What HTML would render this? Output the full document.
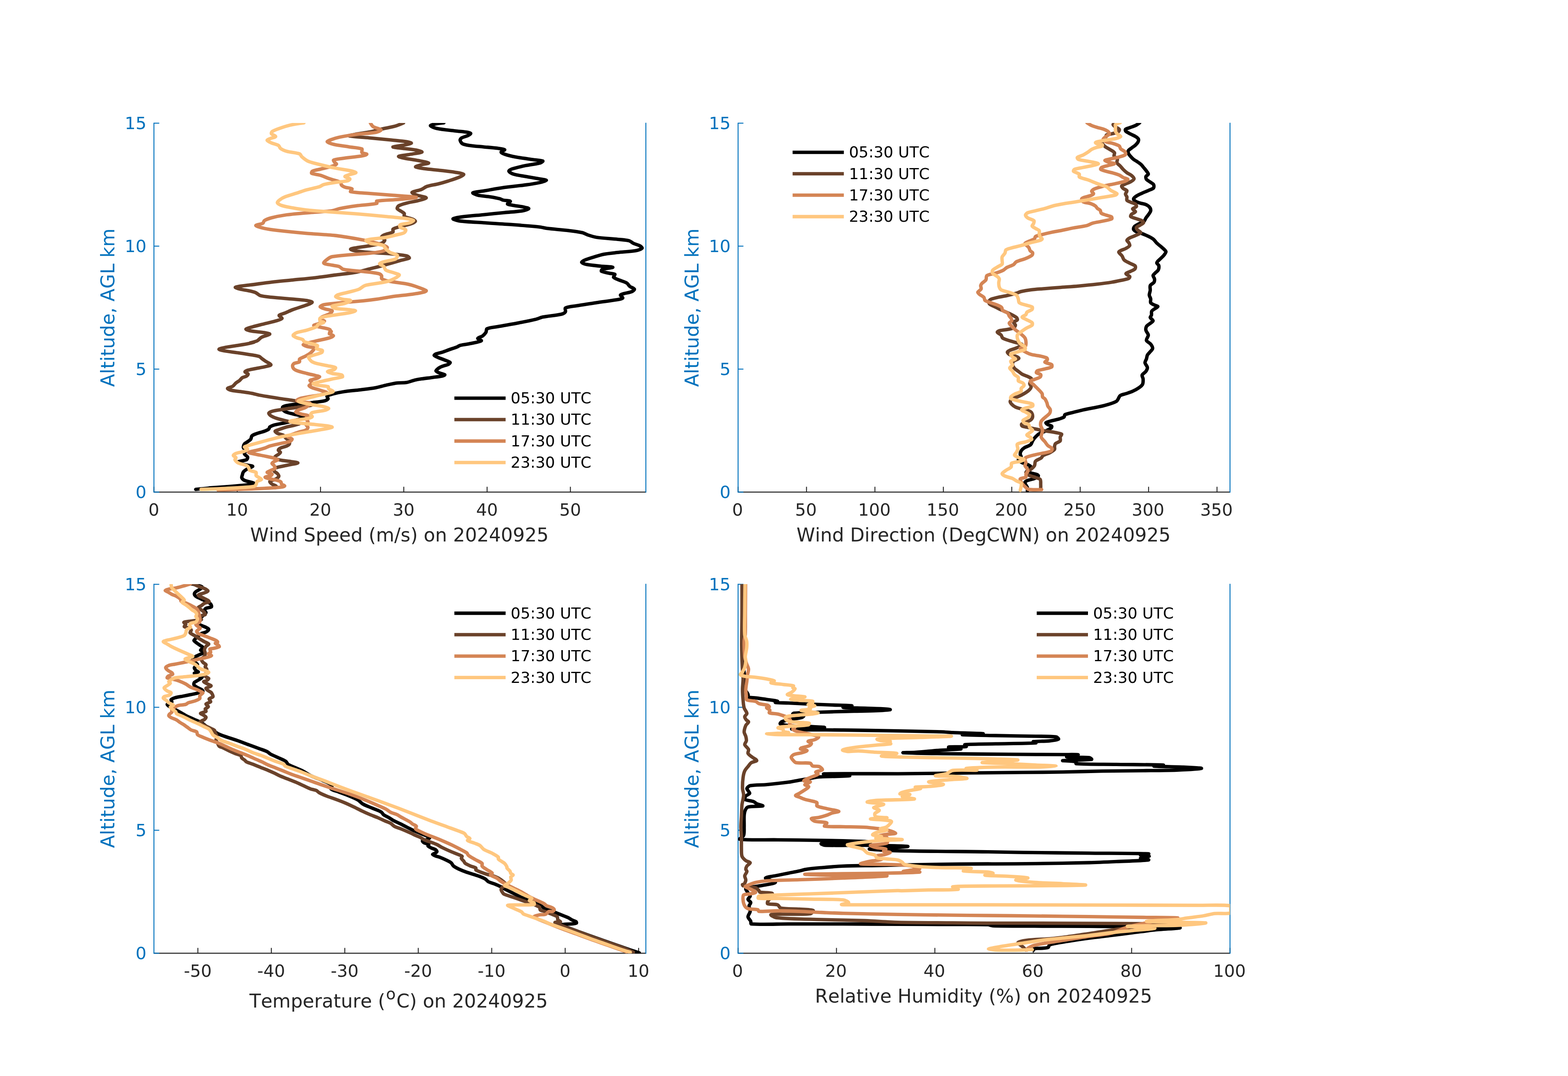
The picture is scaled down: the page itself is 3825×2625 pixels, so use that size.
<!DOCTYPE html>
<html lang="en">
<head>
<meta charset="utf-8">
<title>Sounding profiles 20240925</title>
<style>
html,body{margin:0;padding:0;background:#fff;}
svg{display:block;}
text{font-family:"DejaVu Sans", "Liberation Sans", sans-serif;font-kerning:none;font-variant-ligatures:none;}
.tk{font-size:41.67px;}
.lb{font-size:45.83px;}
.lg{font-size:37.55px;fill:#000;}
.c{fill:none;stroke-width:8.33;stroke-linejoin:round;stroke-linecap:round;}
</style>
</head>
<body>
<svg width="3825" height="2625" viewBox="0 0 3825 2625">
<rect x="0" y="0" width="3825" height="2625" fill="#ffffff"/>
<g id="panel-ws">
<clipPath id="clip0"><rect x="375.5" y="300" width="1200" height="901"/></clipPath>
<g stroke="#262626" stroke-width="2.3" fill="none">
<line x1="375.5" y1="1200.5" x2="1575.5" y2="1200.5"/>
<line x1="375.5" y1="1200.5" x2="375.5" y2="1187.5"/>
<line x1="578.7" y1="1200.5" x2="578.7" y2="1187.5"/>
<line x1="781.9" y1="1200.5" x2="781.9" y2="1187.5"/>
<line x1="985" y1="1200.5" x2="985" y2="1187.5"/>
<line x1="1188.2" y1="1200.5" x2="1188.2" y2="1187.5"/>
<line x1="1391.4" y1="1200.5" x2="1391.4" y2="1187.5"/>
</g>
<g stroke="#0072BD" stroke-width="2.3" fill="none">
<line x1="375.5" y1="299.4" x2="375.5" y2="1201.7"/>
<line x1="1575.5" y1="299.4" x2="1575.5" y2="1201.7"/>
<line x1="375.5" y1="1200.5" x2="388.5" y2="1200.5"/>
<line x1="375.5" y1="900.5" x2="388.5" y2="900.5"/>
<line x1="375.5" y1="600.5" x2="388.5" y2="600.5"/>
<line x1="375.5" y1="300.5" x2="388.5" y2="300.5"/>
</g>
<g clip-path="url(#clip0)">
<path class="c" stroke="#000000" d="M1082.8,299.7C1082.8,299.7 1068.2,301.1 1062.1,302.4C1058.4,303.2 1049.6,305.2 1050,306.6C1050.6,308.5 1060.6,312.4 1065.5,313.4C1078.7,316.2 1096.8,317.6 1110.3,319.3C1119.6,320.5 1132.2,321.3 1141.4,322.8C1143.6,323.2 1148.3,324.4 1148.3,325.5C1148.3,326.8 1143.7,329.6 1141.4,330.7C1137,332.9 1130.1,334.2 1125.9,336.6C1124.4,337.5 1122.2,340.1 1122.4,341.7C1122.7,344.2 1125.2,348.9 1127.6,350.3C1131.9,352.8 1139.5,354 1144.8,354.8C1155.1,356.4 1168.9,357.3 1179.3,358.3C1189.6,359.3 1203.5,360.3 1213.8,361.7C1219,362.4 1229.4,363.4 1231,365.2C1232,366.2 1222.4,369.3 1222.4,371C1222.4,372.6 1228.2,375.3 1231,376.2C1239,378.9 1250.2,381.5 1258.6,383.1C1270.9,385.4 1287.6,387.5 1300,389.3C1307.2,390.4 1320.3,390.9 1324.1,392.8C1325.4,393.4 1319.6,397 1317.2,397.6C1307.2,400.3 1293,401.6 1282.8,403.8C1272.4,406 1258.3,409.1 1248.3,412.4C1245.9,413.2 1241,416.1 1241.4,417.6C1242,419.7 1248.2,423.4 1251.7,424.5C1260.6,427.3 1273.4,429 1282.8,430.7C1293.1,432.6 1306.9,434.7 1317.2,436.6C1321.9,437.5 1332.8,438.7 1332.8,440C1332.8,441.3 1322,444.1 1317.2,445.2C1307,447.4 1293.2,449.6 1282.8,451C1267.3,453.2 1246.5,455 1231,457.2C1215.4,459.4 1194.8,463.3 1179.3,465.9C1171.5,467.2 1156.1,468.3 1153.4,470.3C1152,471.3 1161.6,475.3 1165.5,476.2C1174.6,478.3 1187.3,478.8 1196.6,480.3C1203.4,481.4 1212.4,483.1 1219,484.8C1221.7,485.5 1224.9,487.7 1227.6,488.3C1232.6,489.5 1242.8,489.2 1244.8,491C1245.9,492 1237.4,496.3 1237.9,497.6C1238.5,499.1 1245.1,499.7 1248.3,500.3C1257.6,502.1 1270.1,503.6 1279.3,505.5C1282.5,506.2 1290.1,507.9 1289.7,509C1289.1,510.5 1280.2,513.4 1275.9,514.1C1262.6,516.3 1244.5,517.2 1231,518.6C1215.5,520.2 1194.8,522.2 1179.3,523.8C1163.8,525.4 1143,526.9 1127.6,529C1120.8,529.9 1106.4,532 1105.2,533.8C1104.3,535 1115.9,538.4 1120.7,539C1138.1,541.3 1161.7,542.2 1179.3,543.4C1200,544.8 1227.6,546.3 1248.3,547.9C1269,549.5 1296.6,551.6 1317.2,553.8C1322.5,554.4 1329.3,556.5 1334.5,557.2C1350,559.1 1370.7,560.5 1386.2,562.4C1396.6,563.7 1410.6,565.3 1420.7,567.6C1425.1,568.6 1430.2,572 1434.5,573.4C1440.6,575.4 1448.9,578.1 1455.2,579C1470.6,581.2 1491.4,582.2 1506.9,583.8C1515.2,584.7 1526.6,585.2 1534.5,587.2C1537.9,588.1 1541.6,591.9 1544.8,593.4C1549.8,595.8 1557.4,597.6 1562.1,600.3C1563.8,601.3 1567.1,604.5 1566.2,605.5C1564,607.8 1556.3,610.6 1551.7,611.4C1538.5,613.7 1520.3,614.4 1506.9,615.9C1496.5,617.1 1482.6,618.3 1472.4,620.3C1465,621.7 1455.5,625 1448.3,627.2C1441.5,629.3 1432.3,632 1425.9,634.8C1423.5,635.8 1418.4,638.8 1419,640C1419.9,641.9 1427.2,644.4 1431,645.2C1441.1,647.2 1455.1,648.2 1465.5,649.3C1474.3,650.2 1494.2,650.8 1494.8,652.1C1495.3,653.2 1476,654.8 1469,657.2C1467.7,657.6 1466.2,661.1 1467.2,661.7C1471.3,664 1480.5,665.3 1486.2,666.6C1490.3,667.6 1498,667.4 1500,669.3C1501.1,670.3 1495.6,674.8 1496.6,676.2C1498.7,679 1506.1,681.2 1510.3,683.1C1515.9,685.6 1524.2,687.6 1529.3,690.7C1531.9,692.3 1533.8,696.6 1536.2,698.6C1539.3,701.1 1546.7,703.2 1547.6,705.5C1548.2,707 1543.7,710.4 1541.4,711.4C1533.6,714.6 1518.9,715.7 1513.8,719.3C1512.1,720.5 1520.2,725.9 1519,727.2C1517,729.5 1508.2,730.6 1503.4,731.4C1489,733.9 1469.6,736.1 1455.2,738.3C1440.7,740.5 1421.4,743.4 1406.9,745.9C1398.6,747.3 1385.5,748.1 1379.3,751.4C1377.2,752.5 1380.7,758.7 1379.3,760.7C1377.6,763.3 1372.4,765.8 1369,766.6C1355.9,769.6 1337.4,770.7 1324.1,773.4C1318.8,774.5 1312.2,777.7 1306.9,779C1294.6,782 1278,785.2 1265.5,787.6C1250,790.6 1229.3,794 1213.8,796.9C1206,798.4 1194.2,799 1187.9,802.1C1185.8,803.1 1186.8,808.5 1185.5,810.7C1183.7,813.6 1180.4,817.2 1177.6,819.3C1174.4,821.7 1166.1,823.4 1165.5,825.5C1165,827.1 1175.8,830.4 1174.1,831.4C1168.5,834.6 1151,837.2 1141,839.4C1135.3,840.6 1127.5,841.3 1122,842.8C1119.8,843.4 1117.3,845.5 1115.1,846.3C1110,848.3 1103,850.5 1097.9,852.3C1092.2,854.3 1084.7,857.3 1079,859.2C1074.4,860.7 1067.9,861.8 1063.5,863.5C1062,864.1 1058.7,866 1059.2,866.9C1060.2,868.6 1065.7,870.8 1068.7,872.1C1073.2,874.1 1079.6,876.2 1084.2,878.1C1088.3,879.8 1095.6,881.8 1097.9,884.1C1098.7,884.9 1095.9,887.7 1094.5,888.4C1090.3,890.5 1083.6,891.8 1079,893.6C1076.3,894.7 1072.7,896.2 1070.4,897.9C1068.1,899.6 1063.2,903 1063.5,904.8C1063.8,906.6 1069.4,908.7 1072.1,909.9C1075.8,911.5 1083.6,912.8 1085,914.3C1085.7,915 1081,916.9 1079,917.3C1071.9,918.8 1062.1,919.8 1054.9,920.8C1047.2,921.9 1036.8,923.1 1029.1,924.2C1023.9,925 1017,926 1011.9,927.2C1005.6,928.7 997.5,932.2 991.2,933.2C984.4,934.3 975,933.4 968.2,934.3C960.4,935.3 950.1,937.8 942.4,939.5C934.6,941.2 924.4,944.5 916.6,945.9C905.1,948 889.5,949.7 877.8,951.1C866.2,952.5 850.6,953.8 839.1,955.5C831.3,956.7 820.9,958.7 813.3,960.7C808.5,962 800.5,964 797.8,966.6C796.6,967.7 801,971.6 800.3,973.1C799.4,975 795.2,977.1 792.6,977.7C783.6,979.8 770.9,981 761.6,982.1C750,983.5 734.5,984.6 722.9,986C715.1,986.9 704.6,988.1 697,989.8C694.5,990.4 690.1,991.9 689.3,993.7C688.6,995.4 690.3,999.9 691.9,1001.5C694.2,1003.8 698.9,1005.5 702.2,1006.6C708.2,1008.6 716.7,1010.2 722.9,1011.8C729.1,1013.4 743.5,1015.1 743.5,1017C743.5,1019 729.2,1022.8 722.9,1024.7C715.3,1027 704.8,1029.4 697,1031.2C689.3,1032.9 678.8,1034.3 671.2,1036.3C667.2,1037.4 661.6,1039.3 658.3,1041.5C656.9,1042.4 657,1045.7 655.7,1046.7C653.1,1048.8 648.6,1050.6 645.4,1051.8C639.3,1054.1 630.8,1056 624.7,1058.3C621.5,1059.5 616.7,1061.2 614.4,1063.5C612.8,1065.1 613.2,1069.3 611.8,1071.2C610.1,1073.6 606.4,1075.9 604,1077.7C601.8,1079.4 597.8,1080.7 596.3,1082.8C594.7,1085 593.3,1089.4 593.7,1091.9C594.1,1094.4 598.5,1097.1 598.9,1099.6C599.3,1101.8 595.6,1105.4 596.3,1107.4C597.2,1110 603,1112.5 604,1115.1C604.6,1116.8 603.2,1120.7 601.5,1121.6C596.3,1124.2 584.4,1124.6 580.8,1126.7C579.7,1127.3 584.2,1130 586,1130.6C591.9,1132.6 600.4,1133.8 606.6,1135.3C609.6,1136 616.7,1136.8 616.4,1137.8C616,1139.2 607.5,1141.4 604,1143.5C600.7,1145.5 596.1,1148.4 593.7,1151.3C592.2,1153.1 591.7,1156.7 591.1,1159C590.6,1160.9 589.1,1163.9 589.8,1165.5C590.7,1167.7 593.9,1170.8 596.3,1171.9C602.8,1174.8 617.5,1176.9 619.5,1178.9C620.6,1180 610.6,1181.7 606.6,1182.3C595.1,1183.9 579.5,1185.1 567.9,1186.1C552.4,1187.4 531.7,1188.7 516.2,1190C504.6,1191 477.5,1193.9 477.5,1193.9"/>
<path class="c" stroke="#6A422A" d="M984.5,299.7C984.5,299.7 971.4,305.5 965.5,307.2C955.3,310.1 941.3,312.4 931,314.8C922.7,316.7 911.8,320 903.4,321.7C893.2,323.7 879.3,325.3 869,327.2C863.8,328.2 849.1,330.7 851.7,331.4C859.4,333.5 887.9,335.1 903.4,336.6C918.9,338.1 939.7,340.1 955.2,341.7C966.6,342.9 981.8,344.1 993.1,345.9C996.3,346.4 1004.2,348.4 1003.4,349.3C1002.1,350.8 991.4,352.8 986.2,353.8C978,355.5 959.8,356.9 958.6,358.3C957.7,359.3 973.1,360.8 979.3,361.7C989.6,363.1 1003.6,364 1013.8,365.9C1018.6,366.8 1030.2,369.8 1029.3,371C1028.1,372.7 1013.6,374.3 1006.9,375.5C996.6,377.4 976.8,379.2 972.4,381.4C970.6,382.3 982,385 986.2,385.9C996.4,388.1 1010.4,389.7 1020.7,391.7C1028.2,393.2 1044.3,395.8 1045.5,397.6C1046.4,398.9 1032.9,400.5 1027.6,402.1C1023.4,403.4 1013,406.1 1013.8,407.2C1015,408.8 1028.2,410.5 1034.5,411.4C1046.9,413.1 1063.5,414.4 1075.9,415.9C1086.2,417.1 1100.1,418.6 1110.3,420.3C1116.6,421.4 1129,423 1131,425.2C1132.1,426.5 1124.1,430.6 1120.7,432.1C1112.7,435.6 1101.4,439 1093.1,441.7C1085.9,444 1076.3,446.8 1069,448.6C1060.8,450.7 1049.4,452.1 1041.4,454.8C1037,456.3 1032,460.7 1027.6,462.4C1021.1,465 1007.2,466.7 1005.2,469.3C1004,470.8 1013.3,474.7 1017.2,476.2C1023.7,478.7 1039.1,480.3 1039.7,482.4C1040.2,484.2 1026.5,487.7 1020.7,489.3C1012.6,491.5 1001.3,493 993.1,495.2C986.8,496.9 977.7,499 972.4,502.1C970.5,503.2 968.2,507.4 969,509C970.3,511.6 976.3,513.8 979.3,515.9C981.4,517.4 985.1,519 986.2,521C987.1,522.6 984.7,526.9 986.2,527.9C990.9,531 1001,532.2 1006.9,534.8C1009.1,535.8 1013.8,538.7 1013.1,540C1011.8,542.3 1004.2,545.5 1000,546.9C992,549.6 980.6,551.4 972.4,553.8C968.2,555 961.4,556.5 958.6,559C957.3,560.2 960.1,564.9 958.6,565.9C953.9,569 943.8,570.2 937.9,572.8C935.6,573.8 930.9,576.2 931,577.9C931.1,580.1 938.6,583.5 938.6,585.9C938.6,588.2 933.9,592.3 931,593.4C923.3,596.3 911.7,597.8 903.4,599.3C893.1,601.1 879.3,602.7 869,604.5C864.8,605.2 855.2,606.7 855.2,607.9C855.2,609.1 864.7,611.7 869,612.4C879.2,614.1 893.1,615.1 903.4,615.9C918.9,617.1 939.7,617.8 955.2,619.3C966.6,620.4 982.3,621.9 993.1,624.5C995.2,625 999.4,628.9 998.3,629.7C995.3,631.9 985,633.2 979.3,634.8C972.1,636.8 962.4,639.6 955.2,641.7C947.9,643.8 938.3,646.7 931,648.6C922.8,650.8 911.7,653.4 903.4,655.5C893.1,658.1 879.5,662.2 869,664.1C853.6,666.9 832.7,668.9 817.2,671C801.7,673.1 781,676.1 765.5,677.9C750,679.7 729.3,681.5 713.8,683.1C698.3,684.7 677.6,686.5 662.1,688.3C646.5,690.1 625.8,693.2 610.3,695.2C602.1,696.3 591,697.2 582.8,698.6C580.1,699.1 573.7,700.5 574.1,701.4C574.7,702.6 582.5,704.6 586.2,705.5C593.3,707.2 603.1,708.4 610.3,710C614.5,711 620.2,712.3 624.1,714.1C627.5,715.6 631,720 634.5,721C642.4,723.3 653.8,724.3 662.1,725.2C677.6,726.9 698.3,728.3 713.8,729.7C724.2,730.6 738.1,731.4 748.3,733.1C752.4,733.8 761.9,736 761.4,737.6C760.8,739.7 749.9,743.3 744.8,745.2C735.6,748.6 723,752.1 713.8,755.5C708.5,757.5 701.8,760.9 696.6,763.1C692,765.1 682.6,766.7 681,769.3C680,770.9 688.9,775.3 687.9,776.9C686.3,779.5 677.2,781.6 672.4,783.1C664.3,785.6 653.1,787.9 644.8,790C636.5,792.1 625.4,794.6 617.2,796.9C612,798.4 601.3,800.9 600,802.8C599.2,804 607,806.6 610.3,807.2C620.5,809.2 634.5,809.7 644.8,811.4C648.8,812.1 658.7,813.9 657.9,815.2C656.6,817.3 643.5,819.8 637.9,822.8C634.4,824.7 631.1,829.6 627.6,831.4C622.8,833.8 611.9,835.9 610.3,836.6C609.5,837 620.2,834.7 619.5,834.9C618.3,835.3 608.7,837.8 604,838.7C597.1,840.1 587.8,841.5 580.8,842.6C573.1,843.8 562.7,845.2 555,846.5C550.3,847.3 544.1,848.5 539.5,849.8C537.9,850.3 533.8,851.6 534.3,852.2C535.3,853.3 541.4,854.9 544.6,855.5C555.4,857.5 569.9,859.1 580.8,860.7C590.9,862.2 604.4,864.2 614.4,865.9C619.9,866.9 627.4,867.8 632.5,869.7C634.8,870.5 636.9,873.4 638.9,874.9C641.6,876.9 645.2,879.5 648,881.4C651.8,884 660.9,887.8 660.9,889.9C660.9,891.7 652,893.3 648,894.3C640.3,896.2 629.9,897.8 622.1,899.4C616.7,900.5 609.2,901.6 604,903.3C601.9,904 597.4,906 597.6,907.2C597.8,908.7 604.6,910.6 605.3,912.4C605.8,913.7 603.1,916.5 601.5,917.5C598.8,919.2 593.9,919.7 591.1,921.4C588.8,922.8 586.8,926.2 584.7,927.9C582.1,930 578.1,932.2 575.6,934.3C573.1,936.4 570.6,940.3 567.9,942.1C564.4,944.4 555.4,946 555,947.7C554.7,949.1 562,951.7 565.3,952.4C573.6,954.2 585.2,955.1 593.7,956.3C599.9,957.2 608.2,958.4 614.4,959.6C619.9,960.7 627,962.9 632.5,964C640.2,965.5 650.6,967.1 658.3,968.4C666,969.7 676.4,971.3 684.1,972.5C691.8,973.7 702.2,975 709.9,976.2C716.9,977.3 726.3,978.8 733.2,980.3C737.9,981.3 744.1,983.3 748.7,984.7C752.2,985.8 761.6,987.7 760.3,988.5C757.7,990 743.2,991.3 735.8,992.4C724.2,994.1 708.6,995.9 697,997.6C687.7,999 675.1,1000.5 666,1002.8C662.7,1003.6 656.6,1005.9 655.7,1007.9C655.1,1009.4 658.9,1013 660.9,1014.4C664.3,1016.7 669.8,1018.9 673.8,1020.3C679.1,1022.1 686.4,1023.8 691.9,1025.2C697.3,1026.6 704.5,1028.3 709.9,1029.4C716.1,1030.7 729.2,1031.7 730.6,1033.2C731.5,1034.2 721.6,1036.5 717.7,1037.6C712.3,1039 705,1040.1 699.6,1041.5C694.9,1042.8 688.7,1045 684.1,1046.7C680.2,1048.1 672.7,1049.8 671.2,1051.8C670.4,1052.9 674.5,1056 676.4,1057C680.7,1059.2 687.8,1059.9 691.9,1062.2C694,1063.4 695.3,1066.9 697,1068.6C699.1,1070.7 703.3,1072.7 704.8,1075.1C706,1077 706.9,1080.9 706.1,1082.8C705.3,1084.8 701.8,1086.9 699.6,1088C695.2,1090.1 688.4,1091.1 684.1,1093.2C682.2,1094.2 678.9,1096.8 678.9,1098.3C678.9,1099.9 684.1,1101.9 684.1,1103.5C684.1,1105.1 680.6,1107.3 678.9,1108.7C676.7,1110.4 672.4,1111.8 671.2,1113.8C670.5,1114.9 671.3,1118.3 672.5,1119C675.9,1121 682.4,1122.1 686.7,1122.9C693.6,1124.2 703,1124.9 709.9,1126C715,1126.8 726.7,1128.2 726.7,1129.3C726.7,1130.4 715,1132.1 709.9,1133.2C702.2,1134.8 691.8,1136.6 684.1,1138.4C680.2,1139.3 674.3,1140.2 671.2,1142.2C669.6,1143.3 668,1147.1 668.6,1148.7C669.5,1151 674.4,1152.9 676.4,1155.1C677.9,1156.8 680.6,1159.8 680.2,1161.6C679.8,1163.7 676.1,1166.7 673.8,1168.1C669.5,1170.6 660.4,1171.9 658.3,1174.5C657.3,1175.8 661.5,1179.5 663.5,1181C666.2,1183 672.2,1184.2 673.8,1186.1C674.5,1186.9 671.2,1190 671.2,1190"/>
<path class="c" stroke="#D48555" d="M903.4,299.7C903.4,299.7 907.5,307.1 910.3,309C915.3,312.3 928,314.4 929.3,316.9C930.1,318.5 921.1,322.1 917.2,322.8C903,325.4 883.4,326 869,327.9C856.5,329.6 839.9,332.2 827.6,334.8C821.3,336.1 812.9,338.7 806.9,341C804.1,342 797.5,344.7 798.3,345.9C799.6,348 808.9,351 813.8,352.1C825,354.7 840.3,356.4 851.7,358.3C861,359.8 875.5,360.2 882.8,363.4C884.8,364.3 881.3,370.5 882.8,372.1C884.9,374.4 894.8,375 894.8,376.2C894.8,377.4 886.5,379.7 882.8,380.3C868.4,382.8 848.9,384.4 834.5,386.6C828.2,387.5 817.7,388.4 813.8,390.7C812.5,391.5 816,395.2 817.2,396.9C818,398.1 821.3,399.5 820.7,400.3C819.2,402.1 813.6,404.4 810.3,405.5C802.2,408.1 791,410.3 782.8,412.4C776.6,414 767.5,415.1 762.1,417.6C760.7,418.2 759.1,422.2 760.3,422.8C765.3,425.3 776.2,425.9 782.8,427.9C788.1,429.5 794.8,433 800,434.8C805.1,436.6 812.1,438.3 817.2,440C821.4,441.4 827.7,442.8 831,445.2C832.4,446.2 831.6,450.1 832.8,451.4C834.7,453.5 838.6,455.6 841.4,456.6C846.3,458.4 855.7,458.4 858.6,460.7C859.9,461.7 853.4,467.1 855.2,467.6C866.8,470.6 888.9,470.9 903.4,472.1C918.9,473.4 939.7,474.9 955.2,476.2C973.3,477.7 1012.5,479.6 1015.5,481.4C1017.7,482.7 985.4,485.4 972.4,486.6C956.4,488.1 933.5,488.1 919,490.7C917.5,491 920.5,495.9 919,496.2C905.5,499.3 884,500 869,502.1C856.5,503.8 839.9,506.5 827.6,509C822.3,510.1 815.6,513.4 810.3,514.1C791.9,516.5 766.9,517.6 748.3,519.3C732.8,520.7 712,522.3 696.6,524.5C686.2,526 672.3,528.7 662.1,531.4C656.7,532.8 649.3,535.5 644.8,538.3C643.1,539.4 643.1,543.5 641.4,544.5C636.9,547.1 623.6,548.6 624.1,550.3C624.7,552.4 638.4,555.8 644.8,557.2C655,559.4 668.9,561.2 679.3,562.4C700,564.8 727.6,567.5 748.3,569.3C768.9,571.1 796.6,572.3 817.2,574.5C832.8,576.2 853.5,579.7 869,582.4C879.4,584.2 893.2,586.9 903.4,589.3C911.8,591.3 922.9,594.1 931,596.9C935.3,598.4 944.2,601.3 944.8,603.8C945.3,606 938.2,611.2 934.5,612.4C925.8,615.3 912.8,616.5 903.4,617.6C888,619.3 867.2,620.3 851.7,621.7C839.3,622.8 822.4,623.9 810.3,626.2C806.9,626.8 802.7,629.3 800,631.4C796.6,634 788.4,639.8 789.7,641.7C791.5,644.5 804.1,645.5 810.3,646.9C815.5,648.1 822.7,648.5 827.6,650.3C831,651.6 834.3,656.5 837.9,657.2C851.9,660.1 871.7,660.7 886.2,662.4C897.6,663.8 913.1,665.1 924.1,667.6C926.6,668.2 929.8,670.8 931,672.8C931.9,674.4 929.6,678.6 931,679.7C934.8,682.6 942.9,684.8 948.3,685.9C961.6,688.7 979.8,690.2 993.1,692.8C999.4,694 1007.7,696.5 1013.8,698.6C1021.7,701.3 1034.6,705.6 1039.7,709C1040.8,709.8 1036.3,711.9 1034.5,712.4C1026.4,714.5 1015.2,716.4 1006.9,717.6C991.4,719.8 970.7,721.6 955.2,723.8C944.8,725.3 931.1,728.2 920.7,729.7C910.4,731.2 896.6,732.8 886.2,733.8C870.7,735.3 850,736.8 834.5,738.3C821,739.6 802.8,740.9 789.7,743.4C786.8,744 780.6,747.2 781,748.6C781.6,750.4 789.4,752.6 793.1,753.8C798.1,755.5 808.3,756 810.3,758.3C811.4,759.6 806,764.3 803.4,765.9C798.7,768.7 791,770.2 786.2,772.8C784.3,773.8 780.4,776.7 781,777.9C782,780 792,782.3 791.4,783.8C790.5,785.9 780.6,788.1 775.9,790C772.8,791.2 764.7,793.1 765.5,794.1C766.8,795.7 777.6,797.2 782.8,798.6C789.5,800.4 800.9,801.2 805.2,804.5C807,805.9 802.9,813.3 803.4,814.1C803.8,814.7 807.8,809 808.1,809C808.4,809 804.9,813 805.5,814.2C806.5,816.1 813.6,818 813.3,819.4C812.9,821.1 806.2,823.5 802.9,824.5C794.6,827 783,829 774.5,831C766.7,832.9 756.3,835.2 748.7,837.5C745.9,838.3 739.6,840.1 739.6,841.3C739.6,842.5 745.9,844.4 748.7,845.2C754,846.7 763.2,847 766.8,849.1C767.9,849.7 765.3,852.9 764.2,854.2C762.1,856.7 759,860 756.4,862C752.8,864.7 747.4,867.5 743.5,869.7C739.7,871.8 733.3,873.5 730.6,876.2C729.4,877.4 731.9,881.7 730.6,882.7C728,884.8 721.1,884.7 717.7,886.5C716.1,887.4 714,890 713.8,891.7C713.6,893.9 714.9,897.7 716.4,899.4C718.4,901.6 722.5,903.5 725.4,904.6C732.2,907.1 741.7,909.3 748.7,911.1C755.6,912.9 765,914.9 771.9,916.7C774.3,917.3 779.7,918.3 779.7,919.3C779.7,920.4 774.4,922.6 771.9,923.5C767.4,925.2 758.4,925.8 756.4,927.9C755.4,929 761.9,932.6 761.6,934.3C761.2,936.4 753.9,939 753.9,940.8C753.9,942.5 759.1,944.9 761.6,945.9C767.6,948.3 776.1,950.3 782.3,952.4C787,954 797.8,956.5 797.8,958.1C797.8,959.7 787.1,962.1 782.3,963.2C774.6,964.9 764.2,966 756.4,967.4C749.4,968.6 739.9,969.8 733.2,971.8C730.2,972.7 723.7,975.7 724.1,976.9C724.5,978.4 732.2,980 735.8,980.8C741.9,982.1 754.6,981.6 756.4,983.9C757.7,985.5 749.7,991.6 746.1,993.7C741.2,996.5 733.2,997.8 728,1000.2C725.8,1001.2 720.8,1004.2 721.6,1005.3C723.1,1007.3 731.5,1009.2 735.8,1010.5C740.8,1012 750.6,1012.4 752.6,1014.4C753.7,1015.5 746.3,1018.7 746.1,1020.8C745.9,1023 751.3,1026.3 751.3,1028.6C751.3,1030.6 746.1,1033 746.1,1035C746.1,1037.3 751.3,1040.5 751.3,1042.8C751.3,1044.8 748.2,1048.1 746.1,1049.2C741.2,1051.6 733.4,1052.7 728,1054.4C722.5,1056.2 715.1,1058.5 709.9,1060.9C707.4,1062 701.9,1064.6 702.2,1066C702.6,1067.7 711.6,1069.2 712.5,1071.2C713.1,1072.5 709.5,1076.1 707.4,1076.9C700.9,1079.4 691.1,1080.4 684.1,1082C676.3,1083.8 665.9,1085.8 658.3,1088C654.3,1089.2 649.4,1091.9 645.4,1093.2C640.1,1095 632.8,1096.9 627.3,1098.3C621.1,1099.9 608,1101.8 606.6,1103.5C605.7,1104.6 615.6,1106.5 619.5,1107.4C627.2,1109.2 637.7,1110.9 645.4,1112.5C652.4,1114 661.8,1115.8 668.6,1117.7C671.4,1118.5 677.7,1120.4 677.7,1121.6C677.7,1122.9 671.1,1124.4 668.6,1126C666.9,1127.1 663.5,1129.2 663.5,1130.6C663.5,1132.1 667.4,1134 668.6,1135.8C669.7,1137.5 672.2,1140.9 671.2,1142.2C669.1,1144.8 662.1,1146.7 658.3,1148.7C656.3,1149.8 651.2,1151.7 651.8,1152.6C652.8,1154 661.5,1154.7 663.5,1156.4C664.3,1157 662.1,1159.7 660.9,1160.3C657.1,1162.1 647.1,1162.9 646.7,1164.2C646.3,1165.3 654.8,1167.2 658.3,1168.1C663.7,1169.5 671.1,1170.4 676.4,1171.9C679.2,1172.7 683.4,1174 685.4,1175.8C686.5,1176.8 685.7,1179.9 686.7,1181C688.4,1182.8 694.8,1184.4 694.4,1185.4C694,1186.7 687.3,1188.3 684.1,1188.7C672.6,1190.1 657,1190.7 645.4,1191.3C626,1192.3 600.2,1193.2 580.8,1193.9C566.1,1194.4 531.7,1195.2 531.7,1195.2"/>
<path class="c" stroke="#FFC77F" d="M741.4,299.7C741.4,299.7 717.1,303.1 706.9,305.5C698.5,307.5 687.4,311.2 679.3,314.1C674.5,315.8 667.7,318.3 663.8,321C662.5,321.9 661.3,325.1 662.1,326.2C663.9,328.7 672.9,331.4 672.4,333.1C671.8,335.1 662.6,336.5 658.6,338.3C656.4,339.3 651.3,341.2 651.7,342.4C652.3,344.3 658.8,347.1 662.1,348.6C667.1,350.8 674.8,352 679.3,354.8C681.6,356.2 682.3,360.9 684.5,362.4C688.5,365.2 695.1,367.9 700,369.3C709.1,371.9 722.5,372.4 731,375.5C733.3,376.3 734.3,380.7 736.2,382.4C740.5,386.1 746.5,391.2 751.7,393.4C760.5,397.1 773.4,399.7 782.8,402.1C793.1,404.7 806.8,407.9 817.2,410C827.5,412.1 841.5,413.7 851.7,415.9C856.8,417 868.3,419.5 868.3,421C868.3,422.5 856.6,424.4 851.7,426.2C848.5,427.3 841.2,429.3 841.4,430.7C841.7,432.4 852,434.5 853.4,436.6C854.1,437.6 850.2,440.5 848.3,441C839.4,443.1 826.5,443.7 817.2,445.2C808.9,446.5 797.7,448.1 789.7,450.3C786.4,451.2 782.6,454.5 779.3,455.5C770.2,458.3 757.5,460.5 748.3,463.1C741,465.2 731.4,468.7 724.1,471C715.9,473.6 704.6,476.6 696.6,479.7C692.2,481.4 686.5,484.4 682.8,487.2C680.5,488.9 676.1,492.6 676.6,494.5C677.2,496.8 683,499.9 686.2,501C694.1,503.7 705.5,505.7 713.8,507.2C724.1,509.1 737.9,511.3 748.3,512.4C763.8,514.1 784.5,515.4 800,516.6C820.7,518.2 848.3,520 869,521.7C889.7,523.4 917.2,525.9 937.9,527.9C953.4,529.4 974.3,531 989.7,533.1C995.5,533.9 1006.6,535.6 1008.6,537.6C1009.7,538.7 1002.9,542.4 1000,543.4C993.1,545.7 981.9,546 975.9,548.6C974.6,549.1 974.9,552.9 975.9,553.8C979,556.5 987.6,557.9 989.7,560.7C990.7,562.1 988.1,566.6 986.2,567.6C980.9,570.4 971.8,571.8 965.5,573.4C957.3,575.5 946.3,578.3 937.9,579.7C924.5,582 901.2,582.7 893.1,585.9C890.8,586.8 899.8,592.3 903.4,593.4C912.2,596.1 926.1,595.5 934.5,598.6C937.5,599.7 939.1,604.9 941.4,607.2C944.2,610.1 948.2,613.9 951.7,615.9C956.5,618.6 966.2,619.7 969,622.8C970.4,624.3 967.8,630.3 965.5,631.4C958.5,634.9 946,635.8 937.9,638.3C934.2,639.4 926.2,641.6 925.9,643.4C925.7,645.2 933.6,647.7 936.2,650.3C938.3,652.4 938.9,657.5 941.4,659C946.7,662.2 956,663.6 962.1,665.9C965.8,667.2 974.1,669.1 974.1,671C974.1,673.2 966,677.6 962.1,679.7C957.2,682.3 950.2,685.2 944.8,686.6C936.7,688.8 925.5,690.2 917.2,691.7C908.9,693.2 897.5,694.3 889.7,696.9C885.1,698.4 880.4,703.7 875.9,705.5C869,708.3 859,710.5 851.7,712.4C843.5,714.6 832,716.5 824.1,719.3C822.2,720 818.1,722.9 819,723.8C821.2,726 829.7,728.5 834.5,729.7C840.6,731.3 854,731.3 855.2,733.1C856.1,734.4 845.8,738.6 841.4,740C832.3,742.8 816,744 810.3,746.9C808.8,747.7 814.7,751.6 817.2,752.1C827.1,754.2 841.4,754.2 851.7,755.5C856.4,756.1 867.2,757.2 867.2,758.3C867.2,759.5 856.5,762.2 851.7,763.1C836.3,766 815.4,768.1 800,771C794.2,772.1 785.2,773.5 781,776.2C779.5,777.1 779.9,781.8 781,783.1C782.5,784.9 790.3,785.6 789.7,786.6C788.8,788.2 779.5,789.5 775.9,791.7C774.3,792.6 774,796.1 772.4,796.9C765.7,800.2 755.6,803.3 748.3,805.5C741.2,807.6 731.1,809 724.1,811.4C721.2,812.4 717.5,815 715.5,816.9C715,817.4 715.1,819 715.6,819.4C718,821.3 722.3,823.3 725.4,824.5C729.2,826 735,826.5 738.4,828.4C740,829.3 740.5,832.8 742.2,833.6C747.5,835.9 755.8,837 761.6,838.7C765.5,839.9 772.5,841.1 774.5,843.4C775.6,844.6 770.7,849.3 771.9,850.4C774.2,852.7 783.2,852.7 786.1,854.8C787.1,855.5 786.1,859.2 784.8,859.9C780.3,862.5 772.2,864 766.8,865.9C762.5,867.4 755.1,868.8 752.6,871C751.6,871.9 754.1,874.8 755.1,876.2C756.8,878.4 759.3,881.4 761.6,882.7C765.1,884.7 770.5,886.3 774.5,887.3C782.1,889.2 792.6,890.8 800.3,892.5C805.8,893.7 814.7,894.8 818.4,896.9C819.4,897.5 817.1,900.6 815.8,901.2C811.3,903.4 800,904.7 799.1,906.4C798.5,907.6 807.1,910.2 810.7,911.1C817.5,912.8 827.8,912.8 833.9,914.9C835.1,915.3 836.3,918.8 835.2,919.3C830.1,921.6 819.9,922.6 813.3,924C805.5,925.7 795.1,927.9 787.4,929.7C780.4,931.4 767.6,933.4 764.2,935.6C763,936.4 769.4,939 771.9,939.5C780.2,941.3 792.8,941 800.3,943.3C801.7,943.7 800.5,947.5 801.6,948.5C804.2,951 812.5,953.3 812.7,955C812.9,956.4 805.9,958 802.9,958.8C794.5,961.1 783,963.3 774.5,965.3C766.7,967.2 756.4,969.7 748.7,971.8C742.4,973.5 730.8,976 728,978.2C726.9,979.1 733.3,981.4 735.8,982.1C743.4,984.2 753.8,985.9 761.6,987.3C769.3,988.7 779.8,989.9 787.4,991.6C791.8,992.6 800.7,994.6 801.6,996.3C802.2,997.4 795.5,1000.1 792.6,1000.9C783.5,1003.2 770.3,1003.9 761.6,1006.6C759.8,1007.2 757.7,1010.3 757.7,1011.8C757.7,1013.2 762.3,1015.5 761.6,1016.4C760.4,1018.2 754.6,1020.1 751.3,1020.8C743,1022.6 731.4,1023.3 722.9,1024.7C718.2,1025.4 707.8,1026.7 707.4,1027.8C707,1028.7 716.3,1030.7 720.3,1031.2C732.6,1032.8 749.2,1033.8 761.6,1035C772.5,1036.1 787,1037.3 797.8,1038.9C801.6,1039.5 811.3,1041.4 810.2,1042.3C808.2,1043.9 794.3,1046.1 787.4,1047.4C779.7,1048.9 769.3,1050.5 761.6,1051.8C753.9,1053.1 743.5,1054.8 735.8,1056.2C728,1057.6 717.7,1059.4 709.9,1060.9C702.1,1062.4 691.8,1064.3 684.1,1066C676.3,1067.8 666,1070.5 658.3,1072.5C650.5,1074.5 640.2,1077.4 632.5,1079.5C624.7,1081.6 614.3,1084.3 606.6,1086.7C603.4,1087.7 596.7,1089.1 596.3,1090.6C595.9,1091.8 604,1094.2 604,1095.7C604,1097.2 598.9,1100 596.3,1100.9C590.4,1103.1 581.5,1103.9 575.6,1106.1C573.3,1107 569.2,1109.7 569.2,1111.2C569.2,1112.8 574.9,1114.6 575.6,1116.4C576.1,1117.7 572.6,1120.3 573.1,1121.6C574.1,1124.1 578,1127.9 580.8,1129.3C586.5,1132.1 595.7,1133.2 601.5,1135.8C603.4,1136.7 605.4,1139.1 606.6,1140.9C607.7,1142.6 607.6,1146.3 609.2,1147.4C613,1149.9 621.5,1150 624.7,1152.6C626.2,1153.8 623.6,1158.6 624.7,1160.3C626,1162.4 630.2,1163.8 632.5,1165.5C634.1,1166.7 638.2,1168.9 637.6,1169.9C636.6,1171.6 629.5,1172.3 627.3,1174.5C625.7,1176.1 626,1180.3 624.7,1182.3C623.6,1184 621.5,1186.4 619.5,1186.7C608.3,1188.7 592.4,1189.2 580.8,1190C565.3,1191 544.6,1191.9 529.1,1192.6C517.5,1193.1 490.4,1193.9 490.4,1193.9"/>
</g>
<g class="tk" fill="#262626" text-anchor="middle">
<text x="375.2" y="1258.3">0</text>
<text x="578.4" y="1258.3">10</text>
<text x="781.6" y="1258.3">20</text>
<text x="984.7" y="1258.3">30</text>
<text x="1187.9" y="1258.3">40</text>
<text x="1391.1" y="1258.3">50</text>
</g>
<g class="tk" fill="#0072BD" text-anchor="end">
<text x="357.3" y="1214.5">0</text>
<text x="357.3" y="914.5">5</text>
<text x="357.3" y="614.5">10</text>
<text x="357.3" y="314.5">15</text>
</g>
<text class="lb" fill="#262626" text-anchor="middle" x="974.4" y="1321.4">Wind Speed (m/s) on 20240925</text>
<text class="lb" fill="#0072BD" text-anchor="middle" transform="translate(278.5 750.5) rotate(-90)">Altitude, AGL km</text>
<g class="lg">
<line x1="1108.4" y1="971.4" x2="1233.4" y2="971.4" stroke="#000000" stroke-width="8.33"/>
<text x="1245.8" y="984">05:30 UTC</text>
<line x1="1108.4" y1="1023.7" x2="1233.4" y2="1023.7" stroke="#6A422A" stroke-width="8.33"/>
<text x="1245.8" y="1036.3">11:30 UTC</text>
<line x1="1108.4" y1="1076" x2="1233.4" y2="1076" stroke="#D48555" stroke-width="8.33"/>
<text x="1245.8" y="1088.6">17:30 UTC</text>
<line x1="1108.4" y1="1128.3" x2="1233.4" y2="1128.3" stroke="#FFC77F" stroke-width="8.33"/>
<text x="1245.8" y="1140.9">23:30 UTC</text>
</g>
</g>
<g id="panel-wd">
<clipPath id="clip1"><rect x="1800.5" y="300" width="1200" height="901"/></clipPath>
<g stroke="#262626" stroke-width="2.3" fill="none">
<line x1="1800.5" y1="1200.5" x2="3000.5" y2="1200.5"/>
<line x1="1800.5" y1="1200.5" x2="1800.5" y2="1187.5"/>
<line x1="1967.4" y1="1200.5" x2="1967.4" y2="1187.5"/>
<line x1="2134.3" y1="1200.5" x2="2134.3" y2="1187.5"/>
<line x1="2301.2" y1="1200.5" x2="2301.2" y2="1187.5"/>
<line x1="2468.1" y1="1200.5" x2="2468.1" y2="1187.5"/>
<line x1="2635" y1="1200.5" x2="2635" y2="1187.5"/>
<line x1="2801.9" y1="1200.5" x2="2801.9" y2="1187.5"/>
<line x1="2968.8" y1="1200.5" x2="2968.8" y2="1187.5"/>
</g>
<g stroke="#0072BD" stroke-width="2.3" fill="none">
<line x1="1800.5" y1="299.4" x2="1800.5" y2="1201.7"/>
<line x1="3000.5" y1="299.4" x2="3000.5" y2="1201.7"/>
<line x1="1800.5" y1="1200.5" x2="1813.5" y2="1200.5"/>
<line x1="1800.5" y1="900.5" x2="1813.5" y2="900.5"/>
<line x1="1800.5" y1="600.5" x2="1813.5" y2="600.5"/>
<line x1="1800.5" y1="300.5" x2="1813.5" y2="300.5"/>
</g>
<g clip-path="url(#clip1)">
<path class="c" stroke="#000000" d="M2780.3,299.3C2780.3,299.3 2773.2,304.6 2769.9,306.3C2765.9,308.3 2760.1,309.8 2755.9,311.4C2752.8,312.6 2747.6,313.7 2745.5,315.6C2744.6,316.4 2745.2,319.3 2746.2,320.2C2749.1,322.8 2754.5,325.2 2758.2,327.2C2761.6,329.1 2766.6,330.9 2769.9,333C2772.2,334.4 2775.7,336.6 2776.8,338.8C2777.7,340.5 2777.2,344 2776.4,345.8C2775.2,348.5 2772.1,351.8 2769.9,353.9C2767.4,356.3 2763.3,358.7 2760.6,360.9C2758.1,362.9 2753.8,365.3 2752.4,367.8C2751.5,369.5 2752.3,372.9 2753.1,374.8C2754.1,377.1 2756.5,379.8 2758.2,381.8C2760.1,384 2762.9,387 2765.2,388.8C2767.8,390.8 2771.8,392.7 2774.5,394.6C2777.4,396.6 2781.3,399.2 2783.8,401.5C2785.8,403.3 2787.9,406.4 2789.6,408.5C2791.3,410.6 2793.8,413.3 2795.4,415.5C2797.3,418.2 2801.2,422.2 2801.2,424.8C2801.2,426.7 2796.1,428.5 2795.4,430.6C2794.8,432.4 2795.5,435.9 2796.6,437.5C2798.2,439.8 2802.3,441.6 2804.7,443.4C2807.5,445.5 2812.4,447.6 2814,450.3C2815.2,452.2 2815.3,456.9 2814,458.5C2811.9,461.1 2805.9,462.7 2802.4,464.3C2797.6,466.5 2790.9,469 2786.1,471.2C2781.9,473.2 2776,475.6 2772.2,478.2C2769.8,479.8 2765.6,483 2765.2,485.2C2764.9,486.9 2768.1,489.8 2769.9,491C2773,493 2777.9,494.5 2781.5,495.6C2785.6,496.9 2791.6,497.4 2795.4,499.1C2798.5,500.5 2802.7,503.5 2804.7,506.1C2806.2,508 2807.3,511.9 2807,514.2C2806.6,516.8 2804,520.1 2802.4,522.4C2800.5,525.3 2797.3,528.8 2795.4,531.7C2793.9,534 2792.8,538.1 2790.8,539.8C2788,542.2 2782.6,543.7 2779.2,545.6C2775.6,547.6 2770.2,549.9 2767.5,552.6C2766,554.1 2764.6,557.8 2765.2,559.5C2766,561.6 2769.8,564.1 2772.2,565.3C2776.1,567.2 2782,568.4 2786.1,570C2791.1,571.9 2797.6,574.6 2802.4,577C2806,578.8 2810.9,581.4 2814,583.9C2816.5,585.9 2818.7,589.8 2821,592.1C2823.6,594.7 2827.5,597.8 2830.3,600.2C2833.1,602.6 2837,605.7 2839.6,608.3C2841.2,609.9 2844.2,612.2 2844.2,614.1C2844.2,616.4 2841.3,620.1 2839.6,622.3C2837.2,625.4 2833.1,628.8 2830.3,631.6C2828.2,633.7 2825.1,636.2 2823.3,638.5C2822.6,639.4 2821.7,641.1 2822.1,642.1C2822.8,644 2826.4,645.9 2826.8,647.9C2827.4,650.7 2826.9,655.6 2825.6,658.3C2824.1,661.2 2819.8,664 2817.5,666.5C2816,668.2 2813,670.4 2812.8,672.3C2812.6,674.6 2815.9,677.9 2816.3,680.4C2816.6,682.7 2816.4,686.6 2815.2,688.5C2813.3,691.4 2807.3,693.6 2805.9,696.7C2804.6,699.6 2806.2,704.9 2805.9,708.3C2805.6,711.8 2803.4,716.5 2803.6,719.9C2803.8,722.8 2806.5,726.3 2807,729.2C2807.5,731.9 2805.7,736.4 2807,738.5C2808.5,741 2813.4,742.8 2816.3,744.3C2818.7,745.6 2824.5,746.5 2824.5,747.8C2824.5,749.3 2818.7,751.8 2816.3,753.6C2814.2,755.2 2810.5,757.2 2809.4,759.4C2808.3,761.7 2809.5,766 2808.9,768.7C2808.5,770.6 2805.5,772.9 2805.9,774.5C2806.6,777.1 2813,780.4 2812.8,782.7C2812.6,785 2807.1,787.5 2804.7,789.6C2802.3,791.7 2798.1,794 2796.6,796.6C2795.3,798.9 2794.8,803.3 2795.4,805.9C2796.2,809.5 2801,813.9 2801.2,817.5C2801.4,821.2 2795.7,827 2796.6,830.3C2797.5,833.7 2804.5,836.3 2807,839.6C2809,842.3 2812,847.1 2811.7,850C2811.4,853 2806.9,856.6 2804.7,859.3C2803,861.4 2800.1,863.9 2798.9,866.3C2797.7,868.8 2797.5,872.9 2796.6,875.6C2795.7,878.4 2792.8,882.2 2793.1,884.9C2793.5,888.5 2798.5,892.9 2798.9,896.5C2799.2,899.2 2797.1,903.4 2795.4,905.8C2793.2,909 2787.3,911.9 2786.1,915.1C2785.2,917.5 2788.3,921.6 2788.5,924.4C2788.7,928.2 2788.8,933.9 2787.3,937.2C2786,940.2 2782,943.3 2779.2,945.3C2774.7,948.5 2768,952.2 2762.9,954.6C2758.2,956.8 2751.5,958.7 2746.6,960.4C2742.4,961.8 2736,962.5 2732.7,965.1C2729,968.1 2727.5,976.5 2723.4,979C2715.6,983.8 2702.4,986.9 2693.2,989.5C2685,991.8 2673.7,993.6 2665.3,995.3C2658.3,996.7 2649,998.4 2642.1,1000C2635.1,1001.6 2625.8,1004 2618.8,1005.8C2612.5,1007.5 2603.3,1008.9 2597.9,1011.6C2596.3,1012.4 2597,1016.4 2595.6,1017.4C2592.8,1019.5 2587.6,1020.9 2584,1022C2577.1,1024.1 2567.6,1025.8 2560.7,1027.8C2557.8,1028.6 2552.2,1029.8 2551.4,1031.3C2550.8,1032.3 2554.4,1035 2556.1,1036C2558.6,1037.5 2563.8,1037.9 2565.4,1039.5C2566.2,1040.3 2565.3,1043.3 2564.2,1044.1C2560.4,1047.1 2553.7,1050 2549.1,1052.2C2545,1054.2 2539,1055.7 2535.2,1058C2532.1,1059.9 2528.4,1063.5 2525.9,1066.2C2523.5,1068.7 2520.7,1072.5 2518.9,1075.5C2517.3,1078.1 2516.6,1082.9 2514.3,1084.8C2510.3,1088.1 2502.5,1090 2498,1092.9C2495.5,1094.5 2492.5,1097.5 2491,1099.9C2489.7,1102 2488.7,1105.6 2488.7,1108C2488.7,1110.1 2491.6,1113.2 2491,1115C2490.2,1117.4 2483.8,1120 2484.1,1121.9C2484.5,1124.2 2490.3,1127.3 2493.4,1128.9C2497.3,1130.9 2503.3,1131.8 2507.3,1133.6C2509.6,1134.6 2514,1136.5 2514.3,1138.2C2514.6,1139.9 2511.2,1143.2 2509.6,1145.2C2508.4,1146.7 2504.3,1148.8 2505,1149.8C2506.4,1151.6 2513,1153.4 2516.6,1154.5C2520.7,1155.8 2526.7,1156.4 2530.5,1158C2531.6,1158.5 2533.5,1160.6 2532.9,1161.4C2531.4,1163.4 2526.6,1166.1 2523.6,1167.3C2518.9,1169.2 2512,1170.1 2507.3,1171.9C2505,1172.8 2501,1174.7 2500.3,1176.5C2499.7,1178.1 2501.8,1181.5 2502.7,1183.5C2503.5,1185.3 2505.6,1187.4 2506.1,1189.3C2506.7,1191.6 2506.1,1197.5 2506.1,1197.5"/>
<path class="c" stroke="#6A422A" d="M2721.1,299.3C2721.1,299.3 2715.3,302.4 2715.3,303.9C2715.3,305.6 2719.2,308.3 2721.1,309.8C2723.7,311.8 2729.1,313.4 2730.4,315.6C2731.2,316.9 2729.5,320.5 2728,321.4C2724.6,323.6 2718.3,324.8 2714.1,326C2709.6,327.2 2702.7,327.6 2699,329.5C2697.9,330.1 2698.5,332.9 2697.8,334.1C2696.7,336 2694.4,338.1 2693.2,340C2691.6,342.3 2688.2,345.8 2688.5,348.1C2688.9,351 2692.9,355.1 2695.5,357.4C2698.5,360 2703.7,362.2 2707.1,364.4C2710.7,366.7 2716.7,369.4 2718.7,372.5C2719.9,374.3 2716.7,378.6 2717.6,380.6C2718.8,383.2 2724.6,385 2725.7,387.6C2726.7,389.9 2723.7,394.6 2724.6,396.9C2725.8,399.8 2730.4,402.5 2732.7,405C2734.9,407.3 2737.4,410.8 2739.7,413.1C2742.3,415.7 2746,419.1 2749,421.3C2752.3,423.7 2757.6,425.7 2760.6,428.3C2762.8,430.2 2766.7,434.2 2766.4,436.4C2766,438.8 2761,441.8 2758.2,443.4C2754.3,445.6 2748.4,447.3 2744.3,449.2C2741.8,450.4 2737,452 2736.2,453.8C2735.6,455.1 2738.2,458.3 2739.7,459.6C2742.1,461.8 2748,463.1 2749,465.4C2749.8,467.3 2745.5,471.2 2745.5,473.6C2745.5,475.7 2748.5,478.3 2749,480.5C2749.5,482.8 2747.8,487 2749,488.7C2750.5,490.8 2755.4,492 2758.2,493.3C2761.7,494.8 2767.1,495.9 2769.9,498C2771.3,499 2773,502.5 2772.2,503.8C2770.9,506 2763.3,507.6 2762.9,509.6C2762.6,511.4 2770.2,514.7 2769.9,516.5C2769.5,518.5 2762.8,520.2 2760.6,522.4C2759.3,523.7 2757.3,527.2 2758.2,528.2C2760.1,530.3 2766.4,531.5 2769.9,532.8C2774.7,534.6 2781.7,536.3 2786.1,538.6C2787.6,539.4 2790.1,542.1 2789.6,543.3C2788.7,545.3 2784,547.4 2781.5,549.1C2778.8,550.9 2773.5,552.7 2772.2,554.9C2771.4,556.2 2773.4,559.3 2774.5,560.7C2776.5,563.1 2783.2,565.9 2782.6,567.7C2781.8,570.1 2773.8,572.7 2769.9,574.6C2765.8,576.6 2759.8,578.2 2755.9,580.4C2753.6,581.7 2749.4,584.4 2749,586.3C2748.7,587.9 2752.6,590.2 2753.6,592.1C2754.6,594 2756.7,597.4 2755.9,599C2754.6,601.6 2749.6,604.3 2746.6,606C2742.7,608.2 2736.6,609.7 2732.7,611.8C2731.4,612.5 2728.8,614.2 2729.2,615.3C2730.2,618 2735.2,621.6 2737.3,624.6C2739.1,627.2 2739.8,631.8 2742,633.9C2745.4,637.1 2751.7,639.8 2755.9,642.1C2759.9,644.3 2766.8,646.2 2769.4,649C2770.6,650.3 2769.9,654.6 2768.7,656C2766.6,658.4 2761.4,660.1 2758.2,661.8C2754.8,663.6 2747,665.6 2746.6,667.6C2746.3,669.4 2754.5,672.2 2755.9,674.6C2756.6,675.7 2754.9,678.7 2753.6,679.3C2748.7,681.5 2740.6,682.7 2735,683.9C2728.1,685.4 2718.8,687.4 2711.8,688.5C2701.4,690.2 2687.4,692 2676.9,693.2C2663,694.8 2644.4,696.6 2630.4,697.8C2616.5,699 2597.9,700.2 2584,701.3C2573.5,702.1 2559.6,703.2 2549.1,704.1C2538.7,705 2524.7,705.8 2514.3,707.1C2507.3,707.9 2497.9,709.5 2491,711.1C2487.4,711.9 2483,714.3 2479.4,715.3C2472.5,717.3 2463.2,719.5 2456.2,721.1C2449.2,722.7 2439.8,724.1 2432.9,725.7C2428,726.9 2421,728.2 2416.7,730.4C2414.8,731.4 2412.4,734.3 2412,736.2C2411.7,737.8 2413,740.9 2414.4,742C2417.9,744.7 2424.1,746.9 2428.3,749C2433.2,751.4 2439.7,754.8 2444.6,757.1C2450.1,759.7 2457.7,762.5 2463.1,765.2C2468.1,767.7 2475.2,771.1 2479.4,774.5C2480.8,775.6 2482.5,779 2481.7,780.3C2480.4,782.5 2473.2,783.9 2472.4,786.1C2471.8,787.8 2477.1,791 2477.1,793.1C2477.1,795.2 2474.6,799.1 2472.4,800.1C2466.9,802.6 2457.8,803.5 2451.5,804.7C2447.4,805.5 2441.5,805.8 2437.6,807C2436,807.5 2432.4,809.4 2432.9,810.5C2433.8,812.6 2439.9,815 2442.2,817.5C2443.7,819.2 2444,823.1 2445.7,824.5C2448.2,826.6 2453,828 2456.2,829.1C2463.1,831.5 2472.5,833.9 2479.4,836.1C2483.6,837.4 2493.4,838.9 2493.4,840.7C2493.4,842.7 2483.8,846.9 2479.4,848.9C2474.7,851.1 2467.7,852.5 2463.1,854.7C2461.1,855.6 2457.3,857.8 2457.3,859.3C2457.3,860.9 2460.9,864.1 2463.1,865.1C2467.6,867.2 2474.8,867.9 2479.4,869.8C2481.4,870.6 2485.9,873.2 2485.2,874.4C2483.8,876.7 2475.3,878.5 2472.4,881.4C2470.7,883.1 2469.8,887.2 2470.1,889.5C2470.5,892.4 2472.8,896.5 2474.8,898.8C2477,901.4 2481.3,903.7 2484.1,905.8C2486.9,907.9 2490.4,911.1 2493.4,912.8C2497.3,915 2503.3,916.6 2507.3,918.6C2510.2,920.1 2515.6,922.2 2516.6,924.4C2517.3,926 2514,929.2 2513.1,931.4C2512.6,932.7 2511.7,934.7 2511.9,936C2512.3,938.5 2515.7,941.8 2515.4,944.1C2515,946.7 2511.8,950.3 2509.6,952.3C2506.5,955.2 2501.6,958.2 2498,960.4C2494,962.8 2488.4,965.6 2484.1,967.4C2480,969.1 2473.8,969.9 2470.1,972.1C2467.8,973.4 2464.7,976.8 2464.3,979C2464,980.9 2466.3,984.3 2467.8,986C2470.1,988.5 2474,991.5 2477.1,993C2481,994.9 2486.8,996.4 2491,997.6C2496.5,999.2 2504.3,1000.4 2509.6,1002.3C2511.9,1003.1 2515.4,1004.9 2516.6,1006.9C2518.2,1009.4 2519.3,1014.4 2518.9,1017.4C2518.6,1019.7 2516.2,1022.9 2514.3,1024.4C2511.3,1026.7 2506.2,1028.5 2502.7,1030.2C2499.6,1031.7 2494.2,1032.8 2492.2,1034.8C2491.4,1035.6 2492.2,1039 2493.4,1039.5C2498.8,1041.8 2508,1042.8 2514.3,1044.1C2524.7,1046.3 2538.6,1049.2 2549.1,1051.1C2557.4,1052.6 2568.7,1054 2577,1055.7C2580.9,1056.5 2588,1057.2 2589.8,1059.2C2590.8,1060.4 2586.8,1064 2586.3,1066.2C2585.7,1068.9 2587.7,1073.5 2586.3,1075.5C2584.2,1078.4 2577.4,1079.7 2574.7,1082.4C2573.2,1083.9 2572.8,1087.2 2572.4,1089.4C2572.1,1091.4 2573.6,1094.9 2572.4,1096.4C2570,1099.4 2564.4,1102.5 2560.7,1104.5C2556.1,1107 2548.9,1108.8 2544.5,1111.5C2542.6,1112.6 2541.6,1116 2539.8,1117.3C2536,1120.1 2528.8,1122.1 2525.9,1125.4C2524,1127.6 2525.2,1133.2 2523.6,1135.9C2521.7,1139.2 2517.4,1142.8 2514.3,1145.2C2511.1,1147.7 2503.5,1149.8 2502.7,1152.2C2502.1,1153.9 2507.1,1157.7 2509.6,1159.1C2514.1,1161.5 2521,1163.1 2525.9,1164.9C2529.4,1166.2 2535.6,1167 2537.5,1169.6C2539.4,1172.3 2538.5,1178.6 2538.7,1182.4C2538.9,1185.9 2538.7,1194 2538.7,1194"/>
<path class="c" stroke="#D48555" d="M2651.4,299.3C2651.4,299.3 2659.3,304.6 2663,306.3C2667,308.1 2672.7,309.6 2676.9,310.9C2681.8,312.4 2688.5,313.7 2693.2,315.6C2696.5,316.9 2701.1,319.1 2703.6,321.4C2704.9,322.6 2706.7,325.9 2706,327.2C2704.9,329.3 2700.1,331.1 2697.8,333C2695.6,334.9 2690.9,338 2690.9,340C2690.9,341.8 2695.4,344.8 2697.8,345.8C2703,347.9 2710.9,348.7 2716.4,350.4C2720.7,351.8 2727,353.7 2730.4,356.2C2732.2,357.5 2732.2,361.6 2733.8,363.2C2736.4,365.8 2742,367.5 2744.3,370.2C2745.6,371.7 2746.8,375.9 2745.5,377.1C2742.6,379.8 2735,381.5 2730.4,382.9C2724.2,384.7 2715.7,386.1 2709.4,387.6C2705.2,388.6 2696.3,389.7 2695.5,391.1C2694.9,392.1 2701.9,394.7 2704.8,395.7C2708.8,397.1 2719,398.1 2718.7,399.2C2718.3,400.5 2707.4,402.5 2702.5,403.9C2698,405.2 2691.3,406.4 2687.4,408.5C2686.1,409.2 2684.2,412.3 2685.1,413.1C2687.4,415.1 2693.9,416.6 2697.8,417.8C2703.3,419.4 2710.9,420.8 2716.4,422.4C2720.7,423.6 2726.4,425.3 2730.4,427.1C2733.4,428.4 2736.8,431.4 2739.7,432.9C2743,434.6 2750.5,435.8 2751.3,437.5C2751.9,438.6 2746.7,441.4 2744.3,442.2C2737.6,444.5 2728.1,446.4 2721.1,448C2712.8,449.9 2701.5,451.7 2693.2,453.8C2686.1,455.6 2676.5,458 2669.9,460.8C2667.5,461.8 2663.4,464.7 2663,466.6C2662.7,468.2 2667.9,470.9 2667.6,472.4C2667.2,474 2663,476.1 2660.7,477C2656,478.9 2649.1,479.9 2644.4,481.7C2642.5,482.4 2638.9,483.7 2638.6,485.2C2638.2,486.9 2640.2,491.2 2642.1,492.2C2646.8,494.7 2655.3,494.9 2660.7,496.8C2664.4,498.1 2669.2,500.4 2672.3,502.6C2674.1,503.9 2675.3,506.9 2676.9,508.4C2678.8,510.1 2682.4,511.2 2683.9,513.1C2685.2,514.7 2684.7,518.7 2686.2,520C2688.8,522.2 2694.3,523.4 2697.8,524.7C2702,526.2 2708.6,527.2 2711.8,529.3C2712.8,530 2712.9,533.5 2711.8,534C2706,536.6 2695.5,538.2 2688.5,539.8C2681.6,541.3 2672.1,542.5 2665.3,544.4C2661,545.6 2655.8,549.1 2651.4,550.2C2641.8,552.6 2628.6,554.1 2618.8,556C2610.4,557.6 2599.3,560.2 2590.9,561.9C2581.9,563.7 2569.7,565.7 2560.7,567.7C2553.7,569.2 2544.4,571.6 2537.5,573.5C2534,574.4 2528.7,575.2 2525.9,577C2524.5,577.9 2525.1,581.8 2523.6,582.8C2519.5,585.6 2512,587.3 2507.3,589.7C2505,590.8 2500,592.8 2500.3,594.4C2500.7,597 2507.3,600.6 2509.6,603.7C2511.1,605.8 2511.6,609.7 2513.1,611.8C2514.4,613.6 2518.1,614.7 2518.9,616.5C2519.5,617.9 2519,621.2 2517.8,622.3C2514.2,625.4 2507.4,628.4 2502.7,630.4C2495.9,633.3 2485.9,635.3 2479.4,638.5C2476.8,639.8 2474.9,644.1 2472.4,645.6C2468,648.3 2460.8,650 2456.2,652.5C2453.2,654.2 2450,657.9 2446.9,659.5C2441.6,662.1 2434,664.7 2428.3,666.5C2422.1,668.5 2412.1,669 2407.4,672.3C2405.1,673.9 2406.7,680.1 2405.1,682.7C2403.2,685.7 2398.3,688.2 2395.8,690.9C2394.4,692.4 2392.6,694.8 2392.3,696.7C2391.9,699 2394.3,702.8 2393.4,704.8C2392.2,707.6 2386.2,710.4 2385.3,712.9C2384.8,714.2 2387.5,716.5 2388.8,717.6C2392,720.3 2397.7,722.7 2400.4,725.7C2401.8,727.3 2401.1,731.4 2402.7,732.7C2406,735.3 2412.5,736.9 2416.7,738.5C2421.5,740.4 2428.2,742.2 2432.9,744.3C2436.2,745.7 2441,747.7 2443.4,750.1C2444.9,751.6 2444.2,755.7 2445.7,757.1C2448.7,759.9 2455.3,761.4 2458.5,764.1C2460.2,765.5 2460.8,769.1 2462,771C2463.2,772.9 2465.6,774.9 2466.6,776.8C2467.4,778.4 2468.4,781.2 2467.8,782.7C2467,784.7 2461.7,786.7 2462,788.5C2462.4,791.2 2467.6,795.1 2470.1,797.8C2472.1,800 2474.8,802.8 2477.1,804.7C2481.1,808 2487,811.8 2491,815.2C2494,817.8 2498.3,821.3 2500.3,824.5C2501.8,826.9 2502.5,831 2502.7,833.8C2502.9,836.9 2503.3,842.1 2501.5,844.2C2499.1,847 2488.5,847.9 2488.7,850C2488.9,852.5 2498.3,856.9 2502.7,859.3C2506.7,861.4 2512.3,863.9 2516.6,865.1C2522.7,866.7 2531.3,867.2 2537.5,868.6C2542.5,869.7 2549.7,871.1 2553.8,873.3C2554.9,873.9 2555.4,876.8 2554.9,877.9C2554,879.9 2548.1,882.6 2549.1,883.7C2551.2,886.1 2561.7,886.9 2565.4,889.5C2566.6,890.4 2566.6,894.5 2565.4,895.3C2561.8,897.6 2554,898.7 2549.1,900C2543.5,901.5 2535.4,902.4 2530.5,904.6C2529.2,905.2 2527.4,908.4 2528.2,909.3C2529.9,911.2 2536.9,911.8 2538.7,913.9C2539.7,915 2538.8,918.7 2537.5,919.7C2534.2,922.2 2527.8,923.8 2523.6,925.6C2520.4,927 2513.5,928.3 2513.1,930.2C2512.7,932.1 2518.8,935.9 2521.2,938.3C2524.7,941.8 2529.5,946.3 2532.9,949.9C2535.8,952.9 2540.2,956.9 2542.2,960.4C2543.3,962.5 2542.2,966.5 2543.3,968.5C2544.3,970.3 2547.8,971.4 2549.1,973.2C2550.9,975.6 2552.6,979.6 2553.8,982.5C2554.7,984.9 2555,988.4 2556.1,990.7C2557.4,993.3 2561.2,996.1 2561.9,998.8C2562.6,1001.3 2562.1,1005.9 2560.7,1008.1C2558.3,1011.8 2552.5,1015.3 2549.1,1018.5C2546.2,1021.2 2541.5,1024.5 2539.8,1027.8C2538.4,1030.4 2538.2,1035.3 2538.7,1038.3C2539.3,1041.9 2543.2,1046.3 2543.3,1049.9C2543.5,1054.7 2538.9,1061.8 2539.8,1066.2C2540.6,1070.1 2546.4,1074.3 2549.1,1077.8C2551.2,1080.6 2553.6,1084.7 2556.1,1087.1C2558.8,1089.6 2565.2,1091.5 2566.5,1094.1C2567.3,1095.7 2565.1,1100.2 2563.1,1101C2553,1104.8 2537,1106.4 2525.9,1109.2C2518.9,1111 2508.8,1113.1 2502.7,1116.1C2501.1,1116.9 2500.3,1120.1 2500.3,1121.9C2500.3,1124 2502.7,1126.8 2502.7,1128.9C2502.7,1131 2499.9,1134 2500.3,1135.9C2500.9,1138.5 2504.8,1141.4 2506.1,1144C2506.9,1145.6 2507.7,1148.2 2507.3,1149.8C2506.7,1152 2503.5,1154.5 2502.7,1156.8C2502.1,1158.7 2504.1,1162.7 2502.7,1163.8C2499.9,1166.2 2491,1166.1 2488.7,1168.4C2487.5,1169.6 2490,1173.4 2491,1175.4C2492.1,1177.6 2494.1,1180.5 2495.7,1182.4C2497.6,1184.6 2500.4,1187.4 2502.7,1189.3C2504.6,1190.9 2507.2,1193.7 2509.6,1194C2518.7,1195.2 2541,1194.4 2541,1194.4"/>
<path class="c" stroke="#FFC77F" d="M2732.7,299.3C2732.7,299.3 2723.5,301.8 2721.1,303.9C2720,304.9 2721.1,308 2721.1,309.8C2721.1,312.9 2720.3,317.3 2721.1,320.2C2721.7,322.5 2724,325.4 2725.7,327.2C2727.8,329.3 2734.1,331.5 2733.8,333C2733.4,334.7 2726.7,336.8 2723.4,337.6C2717.3,339.2 2708.8,340 2702.5,341.1C2694.8,342.5 2684.5,344 2676.9,345.8C2675.4,346.1 2672.3,347.4 2672.3,348.1C2672.3,348.9 2675.4,350.5 2676.9,350.9C2680.2,351.8 2685.8,351.5 2688.5,352.7C2689.3,353.1 2689.3,355.8 2688.5,356.2C2685.1,357.9 2678.7,358.4 2674.6,359.7C2671,360.8 2666.3,362.6 2663,364.4C2660,366.1 2656.6,369.4 2653.7,371.3C2650.3,373.5 2645.7,376.5 2642.1,378.3C2638,380.3 2630.7,381.8 2628.1,384.1C2627.2,384.9 2629,388.3 2630.4,388.8C2636.7,391.1 2646.7,392 2653.7,393.4C2659.3,394.5 2666.8,395.5 2672.3,396.9C2674.5,397.4 2679.9,399 2679.2,399.7C2677.8,401.1 2669.5,402.9 2665.3,403.9C2658.4,405.5 2649,407.1 2642.1,408.5C2635.8,409.8 2626.8,410.9 2621.2,413.1C2619.8,413.7 2617.9,416.9 2618.8,417.8C2621.4,420.4 2629.9,421.9 2632.8,424.8C2634.1,426.1 2631.3,430.7 2632.8,431.7C2637.6,434.9 2647.5,436.4 2653.7,438.7C2660.7,441.3 2669.9,445.4 2676.9,448C2683.8,450.6 2693.7,452.8 2700.2,456.1C2703.4,457.7 2706.3,462.3 2709.4,464.3C2713.7,467.2 2721.9,469.7 2724.6,472.4C2725.4,473.2 2722.5,475.5 2721.1,475.9C2711.7,478.3 2698.3,480 2688.5,481.7C2678.1,483.5 2664.1,485.8 2653.7,487.5C2643.2,489.2 2629.3,491.6 2618.8,493.3C2611.8,494.4 2602.5,495.6 2595.6,496.8C2588.6,498 2579.3,499.7 2572.4,501.4C2565.3,503.2 2556.1,506.5 2549.1,508.4C2542.2,510.3 2532.9,512.5 2525.9,514.2C2520.3,515.6 2512.4,516.7 2507.3,518.9C2505.1,519.8 2501.5,522.9 2501.5,524.7C2501.5,526.7 2505.1,530.2 2507.3,531.7C2511.4,534.4 2519.5,535.7 2522.4,538.6C2523.6,539.8 2521.9,543.6 2521.2,545.6C2520.5,547.5 2517.2,550 2517.8,551.4C2518.6,553.5 2523.4,555.5 2525.9,557.2C2528.6,559 2533.6,560.6 2535.2,563C2536.4,564.8 2534.8,568.8 2535.2,571.2C2535.5,573.3 2536.4,576.3 2537.5,578.1C2538.5,579.8 2542.2,581.5 2542.2,582.8C2542.2,584 2539.1,585.8 2537.5,586.3C2530.8,588.5 2521.2,590.2 2514.3,592.1C2507.3,594 2498,597.1 2491,599C2484.1,600.9 2474.7,602.8 2467.8,604.8C2463.6,606 2457,607.1 2453.9,609.5C2452.1,610.9 2452.7,615.4 2451.5,617.6C2449.9,620.6 2445.7,623.8 2444.6,626.9C2443.7,629.4 2444.6,633.4 2444.6,636.2C2444.6,638.7 2445.9,642.7 2444.6,644.4C2442.4,647.2 2436.3,649.2 2432.9,651.4C2429.3,653.7 2423.6,656.5 2421.3,659.5C2420.1,661 2420.1,665 2421.3,666.5C2423.6,669.5 2429.7,671.9 2432.9,674.6C2434.6,676 2437.1,678.4 2437.6,680.4C2438.2,682.9 2436.4,686.9 2436.4,689.7C2436.4,692.8 2436.6,697.3 2437.6,700.2C2438.4,702.5 2440.1,706 2442.2,707.1C2447.1,709.8 2455.3,711 2460.8,712.9C2466.4,714.8 2474.8,716.7 2479.4,719.9C2481.8,721.6 2483,726.3 2484.1,729.2C2485.1,731.9 2484.4,736.9 2486.4,738.5C2490,741.4 2497.8,742.7 2502.7,744.3C2507.2,745.8 2514.5,746.7 2517.8,749C2519,749.8 2518.9,753.7 2517.8,754.8C2515.1,757.5 2508.2,759 2505,761.7C2503.6,762.8 2504,766.2 2502.7,767.5C2500.5,769.7 2493.4,771.6 2493.4,773.4C2493.4,775.2 2499.8,777.6 2502.7,779.2C2507.2,781.7 2514.4,784.2 2517.8,787.3C2518.9,788.4 2518.9,792 2517.8,793.1C2514.4,796.2 2507.1,798.5 2502.7,801.2C2499,803.4 2494.4,806.8 2491,809.4C2488.1,811.7 2482.9,814.5 2481.7,817.5C2480.5,820.4 2481.8,825.9 2482.9,829.1C2483.9,832.1 2486.4,836.1 2488.7,838.4C2491.6,841.3 2497.8,843.5 2500.3,846.5C2501.3,847.7 2501.6,851.6 2500.3,852.4C2495.4,855.4 2485.7,857.2 2479.4,859.3C2475.2,860.7 2467.3,861.8 2465.5,864C2464.5,865.3 2468.4,869.2 2470.1,870.9C2471.9,872.7 2477.6,874.4 2477.1,875.6C2476.3,877.5 2466.7,878.9 2465.5,881.4C2464.6,883.4 2470.5,888.2 2470.1,890.7C2469.7,893.1 2463.1,895.5 2463.1,897.7C2463.1,900.1 2468.2,903.2 2470.1,905.8C2471.7,908.1 2472.9,911.9 2474.8,913.9C2477.1,916.4 2482.5,918.2 2484.1,920.9C2485.2,922.8 2482.8,927.4 2484.1,929C2486.2,931.6 2492.9,932.4 2495.7,934.8C2497.1,936 2498.6,939.2 2498,940.7C2497.1,943 2492.2,945.2 2491,947.6C2490.1,949.3 2492.4,953.4 2491,954.6C2487.5,957.6 2479.5,959.2 2474.8,961.6C2472.1,963 2468.5,965.3 2466.6,967.4C2465.7,968.4 2464.5,971.5 2465.5,972.1C2469.7,974.6 2478.4,976.5 2484.1,977.9C2491,979.6 2500.4,980.9 2507.3,982.5C2510.8,983.3 2516.4,984.2 2518.9,986C2519.9,986.7 2520,990.1 2518.9,990.7C2515.1,992.9 2507.5,993.6 2502.7,995.3C2499.4,996.4 2492.2,998.5 2492.2,1000C2492.2,1001.6 2499.6,1004 2502.7,1005.8C2505.5,1007.5 2511.1,1009.4 2511.9,1011.6C2512.5,1013.2 2509.1,1016.9 2507.3,1018.5C2504.3,1021.1 2497.6,1022.9 2495.7,1025.5C2494.8,1026.7 2496.6,1030.3 2498,1031.3C2500.8,1033.4 2507,1033.8 2509.6,1036C2511.1,1037.3 2510.7,1041.1 2511.9,1042.9C2513.5,1045.3 2518.9,1047.9 2518.9,1049.9C2518.9,1051.7 2514,1054 2511.9,1055.7C2509.8,1057.4 2504.7,1059.9 2505,1061.5C2505.4,1063.4 2511.9,1065.2 2514.3,1067.3C2515.4,1068.3 2517.5,1071.2 2516.6,1072C2514,1074.3 2507,1076.4 2502.7,1077.8C2496.5,1079.9 2485.6,1080.2 2481.7,1083.6C2479.6,1085.4 2483.3,1091.8 2482.9,1095.2C2482.6,1097.8 2480.7,1101.1 2479.4,1103.4C2478.2,1105.6 2474.2,1108.7 2474.8,1110.3C2475.6,1112.5 2481.1,1114.8 2484.1,1116.1C2488.1,1117.9 2497.2,1119.2 2498,1120.8C2498.6,1122 2491.7,1124.5 2488.7,1125.4C2482.6,1127.3 2472.4,1127.2 2467.8,1130.1C2465.8,1131.4 2468.2,1137.4 2466.6,1139.4C2464,1142.6 2457.5,1144.8 2453.9,1147.5C2450.9,1149.7 2445,1153.2 2444.6,1155.6C2444.3,1157.4 2449.1,1160.3 2451.5,1161.4C2456.7,1163.8 2464.7,1165.1 2470.1,1167.3C2473.1,1168.6 2476.5,1171.5 2479.4,1173.1C2482.8,1175 2488.9,1176.3 2491,1178.9C2492.3,1180.5 2491.3,1184.6 2491,1187C2490.6,1189.8 2488.7,1196.3 2488.7,1196.3"/>
</g>
<g class="tk" fill="#262626" text-anchor="middle">
<text x="1799.2" y="1258.3">0</text>
<text x="1966.1" y="1258.3">50</text>
<text x="2133" y="1258.3">100</text>
<text x="2299.9" y="1258.3">150</text>
<text x="2466.8" y="1258.3">200</text>
<text x="2633.7" y="1258.3">250</text>
<text x="2800.6" y="1258.3">300</text>
<text x="2967.5" y="1258.3">350</text>
</g>
<g class="tk" fill="#0072BD" text-anchor="end">
<text x="1782.3" y="1214.5">0</text>
<text x="1782.3" y="914.5">5</text>
<text x="1782.3" y="614.5">10</text>
<text x="1782.3" y="314.5">15</text>
</g>
<text class="lb" fill="#262626" text-anchor="middle" x="2399.4" y="1321.4">Wind Direction (DegCWN) on 20240925</text>
<text class="lb" fill="#0072BD" text-anchor="middle" transform="translate(1703.5 750.5) rotate(-90)">Altitude, AGL km</text>
<g class="lg">
<line x1="1933.5" y1="371.6" x2="2058.5" y2="371.6" stroke="#000000" stroke-width="8.33"/>
<text x="2070.9" y="384.2">05:30 UTC</text>
<line x1="1933.5" y1="423.9" x2="2058.5" y2="423.9" stroke="#6A422A" stroke-width="8.33"/>
<text x="2070.9" y="436.5">11:30 UTC</text>
<line x1="1933.5" y1="476.2" x2="2058.5" y2="476.2" stroke="#D48555" stroke-width="8.33"/>
<text x="2070.9" y="488.8">17:30 UTC</text>
<line x1="1933.5" y1="528.5" x2="2058.5" y2="528.5" stroke="#FFC77F" stroke-width="8.33"/>
<text x="2070.9" y="541.1">23:30 UTC</text>
</g>
</g>
<g id="panel-t">
<clipPath id="clip2"><rect x="375.5" y="1425" width="1200" height="901"/></clipPath>
<g stroke="#262626" stroke-width="2.3" fill="none">
<line x1="375.5" y1="2325.5" x2="1575.5" y2="2325.5"/>
<line x1="482.7" y1="2325.5" x2="482.7" y2="2312.5"/>
<line x1="661.9" y1="2325.5" x2="661.9" y2="2312.5"/>
<line x1="841.1" y1="2325.5" x2="841.1" y2="2312.5"/>
<line x1="1020.3" y1="2325.5" x2="1020.3" y2="2312.5"/>
<line x1="1199.5" y1="2325.5" x2="1199.5" y2="2312.5"/>
<line x1="1378.7" y1="2325.5" x2="1378.7" y2="2312.5"/>
<line x1="1557.9" y1="2325.5" x2="1557.9" y2="2312.5"/>
</g>
<g stroke="#0072BD" stroke-width="2.3" fill="none">
<line x1="375.5" y1="1424.3" x2="375.5" y2="2326.7"/>
<line x1="1575.5" y1="1424.3" x2="1575.5" y2="2326.7"/>
<line x1="375.5" y1="2325.5" x2="388.5" y2="2325.5"/>
<line x1="375.5" y1="2025.5" x2="388.5" y2="2025.5"/>
<line x1="375.5" y1="1725.5" x2="388.5" y2="1725.5"/>
<line x1="375.5" y1="1425.5" x2="388.5" y2="1425.5"/>
</g>
<g clip-path="url(#clip2)">
<path class="c" stroke="#000000" d="M466.6,1424.5C466.6,1424.5 478.6,1426.9 483.6,1428.3C486.5,1429.1 492.5,1430.4 493.1,1432C493.6,1433.2 489.3,1436.3 487.4,1437.7C484.8,1439.7 480.4,1441.3 477.9,1443.4C476.4,1444.7 474.1,1447.4 474.1,1449.1C474.1,1450.8 476.3,1453.6 477.9,1454.8C481.4,1457.3 487.2,1459.5 491.2,1461.4C495.7,1463.5 502,1465.7 506.3,1468C508.8,1469.3 512.2,1471.6 513.9,1473.7C515.1,1475.2 516.9,1479.3 515.8,1480.3C513.5,1482.4 506.1,1482.3 502.5,1484.1C500.9,1484.9 498.7,1487.3 498.7,1488.8C498.7,1490.5 502.9,1492.9 502.5,1494.5C501.8,1496.9 497.3,1499.8 495,1502.1C492.7,1504.4 489.3,1507.2 487.4,1509.7C485.9,1511.7 483.6,1515 483.6,1517.2C483.6,1519.2 485.6,1522.6 487.4,1523.9C491.3,1526.6 498.1,1528.2 502.5,1530.5C504.7,1531.6 509.2,1533.6 509.2,1535.2C509.2,1537 504.9,1540.5 502.5,1541.9C499.5,1543.6 494.4,1544 491.2,1545.6C488.7,1546.9 485.7,1549.4 483.6,1551.3C481.2,1553.4 478.2,1556.5 476,1558.9C475,1559.9 472.8,1561.7 473.2,1562.7C473.9,1564.5 477.8,1566.8 479.8,1568.4C482,1570.2 485.1,1572.3 487.4,1574C489.7,1575.7 494.7,1577.8 495,1579.7C495.3,1581.5 488.8,1584.8 489.3,1586.3C489.9,1588.2 499,1589.7 498.7,1591.1C498.4,1592.8 490.8,1595.1 487.4,1596.8C484,1598.5 479.1,1600.3 476,1602.4C474,1603.7 470.3,1606.3 470.3,1608.1C470.3,1610.3 474.1,1613.5 476,1615.7C477.6,1617.5 481.9,1619.7 481.7,1621.4C481.4,1623.7 474.8,1626.4 474.1,1628.9C473.6,1630.7 476.4,1633.9 477.9,1635.6C479.2,1637.1 484.1,1638.6 483.6,1639.4C482.9,1640.6 474.8,1640.9 474.1,1642.2C473.6,1643.2 477.8,1645.9 479.8,1646.9C483.5,1648.8 492.5,1649.7 493.1,1651.7C493.6,1653.4 486.6,1657.1 483.6,1659.2C480.9,1661.1 476.2,1662.7 474.1,1664.9C473,1666.1 472.5,1669.2 473.2,1670.6C474.2,1672.7 477.6,1674.9 479.8,1676.3C483,1678.3 488.1,1679.9 491.2,1682C492.7,1683 495.8,1685.8 495,1686.7C493.5,1688.4 487.1,1689.6 483.6,1690.5C478,1692 470.4,1693.5 464.7,1694.7C459,1695.9 451.4,1697.4 445.7,1698.5C440,1699.6 432.3,1700.7 426.8,1702.3C423.8,1703.2 418.8,1705 417.3,1707C416.5,1708.1 420.1,1711.6 419.2,1712.7C417.3,1715 408.2,1716.4 407.9,1718.4C407.6,1720.3 414.2,1724.1 417.3,1726C421.1,1728.3 426.7,1730.5 430.6,1732.6C434.6,1734.8 439.8,1737.9 443.8,1740.2C447.2,1742.2 451.7,1745 455.2,1746.8C460.8,1749.6 468.4,1752.8 474.1,1755.3C479.2,1757.6 486.3,1760.1 491.2,1762.9C494.9,1765 499,1769 502.5,1771.4C506.9,1774.4 513.2,1778 517.7,1780.9C521.7,1783.4 526.7,1787.3 530.9,1789.4C536.4,1792.1 544.1,1794.9 549.9,1797C558.3,1800 569.8,1803.4 578.3,1806.4C586.9,1809.4 598.2,1813.8 606.7,1816.9C615.2,1820 626.6,1824.1 635.1,1827.3C640.2,1829.2 647.2,1831.5 652.1,1833.9C654.6,1835.2 657.2,1838.3 659.7,1839.6C666.3,1843.1 675.6,1846.8 682.4,1850C687,1852.2 693.5,1854.7 697.5,1857.6C699.7,1859.2 700.9,1863.6 703.2,1865.1C707.7,1868.1 715.2,1870.4 720.3,1872.7C726,1875.2 733.7,1878.3 739.2,1881.2C745,1884.3 752.1,1889.7 758.1,1892.6C766.3,1896.6 778.2,1900.1 786.5,1903.9C793.7,1907.2 805.3,1911.4 810,1916C811.6,1917.6 805.8,1923 807.3,1924.5C810.7,1927.9 820.6,1929.9 826.3,1932.1C833.7,1935 843.6,1938.5 850.9,1941.5C857.8,1944.4 867.2,1948.2 873.6,1951.9C877.4,1954.1 881.2,1959.1 885,1961.4C889.7,1964.3 896.9,1966.8 902,1969C907.6,1971.4 915.3,1974.2 920.9,1976.6C923.8,1977.9 927.9,1979.4 930.4,1981.3C932.5,1982.8 934,1986.4 936.1,1987.9C939.7,1990.5 945.4,1992.8 949.3,1995.1C952.2,1996.8 955.8,1999.6 958.8,2001.2C964.3,2004.2 972.1,2007.5 977.7,2010.3C983.4,2013.2 991,2017.2 996.7,2020.1C1000.6,2022.1 1005.9,2024.9 1009.9,2026.7C1014.4,2028.7 1020.6,2031 1025.1,2033C1031.9,2036 1043.2,2039.6 1047.8,2043.2C1048.9,2044 1045.5,2046.9 1044,2047.6C1040.4,2049.3 1032.7,2049.5 1030.7,2051.3C1029.8,2052.1 1033,2055.2 1034.5,2056.1C1037.5,2057.8 1043.8,2058.2 1045.9,2059.9C1046.6,2060.5 1043.5,2062.8 1044,2063.6C1045.2,2065.3 1049.2,2067.2 1051.6,2068.4C1054.9,2070 1060,2071.2 1062.9,2073.1C1064.2,2074 1066.1,2076.6 1065.8,2077.8C1065.5,2079.1 1062.5,2080.6 1061,2081.6C1059.4,2082.6 1055.2,2083.6 1055.4,2084.5C1055.7,2085.6 1060.6,2087.4 1062.9,2088.3C1065.7,2089.4 1069.6,2090 1072.4,2091.1C1078.2,2093.4 1085.7,2096.8 1091.3,2099.6C1094.3,2101.1 1098.3,2103.2 1100.8,2105.3C1102.9,2107.1 1104.3,2111.2 1106.5,2112.9C1110,2115.7 1115.6,2118.5 1119.7,2120.4C1125.2,2123 1132.9,2126 1138.7,2128C1147.5,2131.1 1159.6,2134.3 1168.4,2137.5C1173,2139.2 1179.3,2141.6 1183.5,2144.1C1186.1,2145.6 1188.5,2149.4 1191.1,2150.8C1195.3,2153.1 1201.8,2154.6 1206.3,2156.4C1210.9,2158.3 1217,2160.9 1221.4,2163.1C1225.5,2165.1 1230.7,2168.5 1234.7,2170.6C1240.3,2173.6 1247.9,2177.2 1253.6,2180.1C1259.3,2182.9 1266.7,2187 1272.5,2189.6C1278.1,2192.1 1285.8,2194.8 1291.5,2197.1C1297.2,2199.4 1304.9,2202.1 1310.4,2204.7C1314,2206.4 1318.5,2209.1 1321.8,2211.3C1324.2,2212.8 1326.8,2215.8 1329.3,2217C1334.7,2219.5 1342.7,2221.5 1348.3,2223.6C1354,2225.7 1361.5,2228.9 1367.2,2231.2C1372.9,2233.5 1380.6,2236.2 1386.1,2238.8C1389.1,2240.2 1392.6,2243 1395.6,2244.5C1398.3,2245.9 1402.8,2246.7 1405.1,2248.3C1405.9,2248.9 1406.8,2251.6 1406,2252C1403.9,2253.2 1398.8,2253.6 1395.6,2253.9C1390,2254.5 1382.3,2254.3 1376.7,2254.9C1373.8,2255.2 1366.3,2256 1367.2,2256.8C1369.1,2258.5 1380.5,2261.4 1386.1,2263.4C1403.2,2269.6 1425.8,2278.1 1442.9,2284.2C1459.9,2290.3 1482.7,2298.1 1499.7,2304.1C1511.1,2308.1 1526.2,2313.5 1537.6,2317.4C1544.1,2319.6 1559.4,2324.4 1559.4,2324.4"/>
<path class="c" stroke="#6A422A" d="M470.3,1424.5C470.3,1424.5 479.6,1428.5 483.6,1430.1C488.1,1431.9 494.4,1433.7 498.7,1435.8C501.5,1437.1 507.3,1439.9 507.3,1441.5C507.3,1443 501.4,1445 498.7,1446.2C494.3,1448.1 484.2,1449.9 483.6,1451.9C483.1,1453.6 491.5,1456.6 495,1458.5C498.3,1460.3 503.1,1462.2 506.3,1464.2C507.7,1465 510.8,1467.3 510.1,1468C508.5,1469.6 501.9,1470.2 498.7,1471.8C496.2,1473.1 493.5,1475.9 491.2,1477.5C489,1479 483.6,1480.7 483.6,1482.2C483.6,1483.8 489,1486.1 491.2,1487.9C493.5,1489.8 496.8,1492.2 498.7,1494.5C499.7,1495.7 501.4,1498.5 500.6,1499.3C499.1,1500.8 493.5,1500.6 491.2,1502.1C489.6,1503.1 487.4,1506.2 487.4,1507.8C487.4,1509.1 492.3,1511.2 491.2,1511.6C485.5,1513.5 472.6,1514.1 464.7,1515.3C459.9,1516.1 451,1516.6 448.6,1518.2C447.6,1518.9 453.2,1521.4 453.3,1522.9C453.4,1524.5 448.7,1527.6 449.5,1528.6C451,1530.4 457.7,1530.8 460.9,1532.4C462.9,1533.4 466.2,1535.4 466.6,1537.1C467,1538.8 462.8,1542.3 463.7,1543.7C465.6,1546.5 472.3,1549 476,1551.3C479.5,1553.5 483.9,1556.7 487.4,1558.9C490.7,1561 495.3,1563.6 498.7,1565.5C501.8,1567.3 508.5,1569.2 509.2,1571.2C509.7,1572.7 504,1574.8 502.5,1576.9C500.9,1579.1 499,1582.8 498.7,1585.4C498.4,1587.6 500.6,1590.7 500.6,1593C500.6,1595.5 500,1599.4 498.7,1601.5C497.2,1603.9 491.8,1605.8 491.2,1608.1C490.7,1610.1 493.4,1613.8 495,1615.7C496.8,1617.8 501.5,1619.3 502.5,1621.4C503.1,1622.7 500.3,1625.4 500.6,1627C500.9,1628.8 504.2,1630.8 504.4,1632.7C504.7,1635.4 503.1,1639.4 502.5,1642.2C502,1644.5 499.7,1648.1 500.6,1649.8C501.7,1652 508.9,1653.6 509.2,1655.4C509.5,1657 504.7,1659.7 502.5,1661.1C501,1662 496.5,1662.2 496.9,1663C497.6,1664.5 503.4,1667 506.3,1668.7C508.8,1670.2 515.3,1672.1 514.8,1673.4C514.1,1675.2 504.3,1676.9 502.5,1679.1C501.7,1680.1 504.9,1682.7 506.3,1683.8C508.3,1685.5 511.6,1687.1 513.9,1688.6C514.5,1689 515.5,1689.4 515.8,1690C517.2,1692.7 520.4,1697.3 519.6,1699.5C518.7,1701.8 511.1,1702.9 510.1,1705.1C509.4,1706.6 514.8,1710.4 513.9,1711.8C512.5,1714.1 503.5,1715.3 502.5,1717.5C501.8,1719 508.5,1722.3 508.2,1724.1C507.9,1726 501.7,1727.7 500.6,1729.8C499.9,1731.1 503.5,1734.5 502.5,1735.4C500.1,1737.6 490.3,1738.5 489.3,1740.2C488.6,1741.3 494.7,1743.3 496.9,1744.9C498.7,1746.2 502.2,1748 502.5,1749.6C502.8,1751.1 500.2,1754 498.7,1755.3C496.8,1756.9 493.3,1757.7 491.2,1759.1C489.9,1760 486.7,1762 487.4,1762.9C489,1765.1 495.2,1767.6 498.7,1769.5C502.6,1771.6 508,1774.1 512,1776.1C515.4,1777.8 520.8,1779.4 523.4,1781.8C524.8,1783.1 524.4,1786.6 525.2,1788.5C526.1,1790.8 528.7,1793.6 529,1796C529.3,1798.7 526.8,1802.8 527.1,1805.5C527.4,1807.9 529.8,1810.8 530.9,1813.1C532,1815.4 532.9,1819.1 534.7,1820.6C536.9,1822.5 541.4,1823.1 544.2,1824.4C548.8,1826.5 554.7,1829.8 559.3,1832C563.8,1834.1 569.9,1836.7 574.5,1838.6C578.4,1840.2 584.5,1841.2 587.7,1843.4C589,1844.3 588.5,1847.7 589.6,1849C591.4,1851.1 595,1852.9 597.2,1854.7C598.4,1855.7 599.6,1857.8 601,1858.5C605.3,1860.6 611.6,1862.4 616.1,1864.2C621.8,1866.4 629.4,1869.5 635.1,1871.8C640.8,1874.1 648.4,1876.9 654,1879.3C658.6,1881.2 664.6,1883.9 669.1,1886C673.1,1887.9 678.3,1890.8 682.4,1892.6C688,1895.1 695.6,1897.9 701.3,1900.2C707,1902.5 714.7,1905.3 720.3,1907.7C726,1910.1 733.5,1913.6 739.2,1916.2C744.9,1918.8 752.3,1922.6 758.1,1924.8C761.9,1926.2 767.7,1926.7 771.4,1928.3C773.9,1929.4 776.4,1932.7 778.9,1934C784.4,1936.9 792.1,1940.2 797.9,1942.5C803.5,1944.7 811.2,1947 816.8,1949.1C824.2,1951.8 834.1,1955.5 841.4,1958.6C848.3,1961.5 857.3,1965.8 864.1,1969C869.9,1971.7 877.3,1975.8 883.1,1978.5C888.7,1981.2 896.3,1984.6 902,1987C907.6,1989.4 915.3,1992.1 920.9,1994.5C926.7,1996.9 934.2,2000.6 939.9,2003.1C943.8,2004.8 949.4,2006.6 953.1,2008.7C956.2,2010.5 959.4,2014.6 962.6,2016.3C966.8,2018.6 973.2,2020.2 977.7,2022C985.1,2025 995,2029.2 1002.3,2032.4C1005.2,2033.7 1008.9,2035.8 1011.8,2037.1C1015.7,2038.9 1021.2,2040.9 1025.1,2042.8C1028.6,2044.6 1032.8,2047.8 1036.4,2049.4C1041.9,2051.8 1049.7,2054 1055.4,2056.1C1058.8,2057.4 1063.4,2059.2 1066.7,2060.8C1070.2,2062.6 1074.6,2065.6 1078.1,2067.4C1084.8,2070.7 1093.9,2074.8 1100.8,2077.8C1106.4,2080.2 1114.1,2083 1119.7,2085.4C1122,2086.4 1126.2,2087.6 1127.3,2089.2C1127.9,2090.2 1125,2092.6 1125.4,2093.9C1126.1,2096.1 1129.5,2098.5 1131.1,2100.6C1132.3,2102.2 1133.3,2105 1134.9,2106.2C1138.4,2108.7 1144,2111.1 1148.1,2112.9C1151.8,2114.5 1158,2115.5 1160.8,2117.6C1161.8,2118.3 1159.7,2121.7 1160.8,2122.4C1167.6,2126.3 1179.2,2130.1 1187.3,2132.8C1191.7,2134.3 1198.1,2135.1 1202.5,2136.6C1206.6,2137.9 1212,2140.1 1215.7,2142.2C1219.9,2144.6 1225.4,2148.5 1229,2151.7C1231.1,2153.6 1235.2,2157.5 1234.7,2159.3C1234.1,2161.4 1227.6,2162.8 1225.2,2165C1223.9,2166.2 1222.4,2168.9 1222.4,2170.6C1222.4,2172.3 1224.2,2174.7 1225.2,2176.3C1226.2,2177.8 1227.4,2180.2 1229,2181C1235.9,2184.2 1246.2,2187 1253.6,2189.6C1259.3,2191.6 1266.8,2194.2 1272.5,2196.2C1278.2,2198.2 1285.8,2200.8 1291.5,2202.8C1296.1,2204.4 1302.1,2206.6 1306.6,2208.5C1309.5,2209.7 1314,2211.1 1316.1,2213.2C1317.5,2214.6 1316.5,2218.7 1318,2219.9C1320.5,2221.9 1325.9,2222.4 1329.3,2223.6C1332.2,2224.6 1335.9,2226.3 1338.8,2227.4C1341.6,2228.5 1345.5,2229.9 1348.3,2231.2C1351.8,2232.8 1357.2,2234.5 1359.6,2236.9C1360.9,2238.2 1359.6,2241.9 1360.6,2243.5C1361.9,2245.6 1368,2248.4 1367.2,2249.2C1366,2250.5 1352.9,2249.3 1353.9,2250.5C1355.8,2252.7 1369.8,2257.8 1376.7,2260.6C1385.1,2264 1396.6,2267.9 1405.1,2271C1416.4,2275.1 1431.5,2280.7 1442.9,2284.8C1454.3,2288.9 1469.4,2294.4 1480.8,2298.4C1492.2,2302.4 1507.4,2307.4 1518.7,2311.7C1526.8,2314.8 1545.2,2323 1545.2,2323"/>
<path class="c" stroke="#D48555" d="M464.7,1424.5C464.7,1424.5 451.4,1428.5 445.7,1430.1C440.1,1431.6 432.5,1433.7 426.8,1434.9C421.7,1436 414.8,1436.5 409.8,1437.7C407.7,1438.2 402.9,1439.6 403.1,1440.6C403.4,1441.9 409.2,1443.8 411.7,1445.3C414,1446.6 416.8,1448.8 419.2,1450C422.5,1451.7 427.4,1453 430.6,1454.8C433.6,1456.5 437.9,1459 440.1,1461.4C441.3,1462.7 440.6,1466.2 441.9,1467.1C445.1,1469.3 451.3,1470.1 455.2,1471.8C459.3,1473.5 464.6,1476.3 468.5,1478.4C472,1480.3 476.8,1482.7 479.8,1485.1C481.3,1486.4 482.8,1488.9 483.6,1490.7C484.5,1492.8 485,1496 485.5,1498.3C486.1,1501.1 487.1,1504.9 487.4,1507.8C487.7,1510.6 488.7,1515 487.4,1517.2C485.8,1519.9 478.6,1521.8 477.9,1523.9C477.5,1525.2 481.9,1527.2 483.6,1528.6C485,1529.7 488.7,1531.2 488.3,1532.4C487.6,1534.6 480.7,1537.5 479.8,1540C479.3,1541.5 481.9,1544.6 483.6,1545.6C487.6,1548 494.2,1549.6 498.7,1551.3C503.3,1553 509.4,1555.2 513.9,1557C517.9,1558.6 523.4,1560.6 527.1,1562.7C528.5,1563.5 531.2,1565.6 530.9,1566.5C530.6,1567.6 525,1568.4 525.2,1569.3C525.5,1570.6 530.9,1572.3 532.8,1574C533.7,1574.8 535.5,1577.3 534.7,1577.8C532.1,1579.5 525.5,1580.6 521.5,1581.6C518.7,1582.3 513.3,1581.9 512,1583.5C511,1584.8 514.5,1589.3 513.9,1591.1C513.4,1592.7 508,1593.8 508.2,1594.9C508.5,1596.3 516.5,1598.5 515.8,1599.6C514.8,1601.3 506.6,1603.2 502.5,1604.3C496.9,1605.8 489.2,1606.8 483.6,1608.1C477.9,1609.4 470.4,1611.5 464.7,1612.8C459,1614.1 451.4,1615.5 445.7,1616.6C440,1617.7 432.5,1619.3 426.8,1620.4C422.3,1621.3 415.9,1621.7 411.7,1623.3C409.1,1624.3 404.4,1627 404.1,1628.9C403.8,1630.7 407.8,1634 409.8,1635.6C412.3,1637.6 416.8,1639.2 419.2,1641.2C420.1,1642 421.8,1644.3 421.1,1645C419,1646.9 412.7,1647.9 409.8,1649.8C408.8,1650.5 407.1,1653.1 407.9,1653.6C411,1655.4 418.5,1656.1 423,1657.3C427,1658.4 432.4,1659.6 436.3,1661.1C441.5,1663.1 448.4,1666.1 453.3,1668.7C456.9,1670.6 461,1674.5 464.7,1676.3C469,1678.5 475.4,1680.1 479.8,1682C483.3,1683.5 487.8,1685.8 491.2,1687.6C492.4,1688.2 495.3,1689.1 495,1690C494.2,1692.1 488.8,1695 487.4,1697.6C486.5,1699.2 488.6,1702.9 487.4,1704.2C485.1,1706.6 479.6,1708.6 476,1709.9C471.1,1711.7 463.9,1712.8 459,1714.6C457.1,1715.3 455.2,1717.9 453.3,1718.4C447.9,1719.9 439.9,1719.8 434.4,1721.2C432,1721.8 429,1723.7 426.8,1725C424.4,1726.5 420.5,1728.5 419.2,1730.7C418.3,1732.2 420,1735.7 419.2,1737.3C418.3,1739.1 414.9,1740.5 413.5,1742.1C412.7,1743 411.3,1745 411.7,1745.9C412.4,1747.5 415.4,1749.6 417.3,1750.6C421.1,1752.7 426.8,1754.2 430.6,1756.3C433.1,1757.6 435.8,1760.3 438.2,1761.9C440.9,1763.7 444.8,1765.8 447.6,1767.6C450.5,1769.5 454.2,1772.3 457.1,1774.3C459.9,1776.3 463.5,1779.4 466.6,1780.9C470.3,1782.8 476.8,1783.3 479.8,1785.6C481.3,1786.7 480.3,1790.9 481.7,1792.2C484.3,1794.6 489.6,1796.4 493.1,1797.9C498.7,1800.4 506.3,1803.4 512,1805.5C517.6,1807.6 525.3,1809.9 530.9,1812.1C536.7,1814.4 544.2,1818 549.9,1820.6C555.6,1823.2 563.1,1826.8 568.8,1829.2C574.4,1831.6 582,1834.4 587.7,1836.7C593.4,1839 601.1,1841.9 606.7,1844.3C612.4,1846.7 619.9,1850.3 625.6,1852.8C629.5,1854.5 634.9,1856.7 638.8,1858.5C643.4,1860.7 649.3,1864 654,1866.1C659.6,1868.6 667.2,1871.3 672.9,1873.6C678.6,1875.9 686.2,1878.9 691.9,1881.2C697.6,1883.5 705.1,1886.7 710.8,1888.8C716.4,1890.9 724,1893.4 729.7,1895.4C735.4,1897.4 743,1900 748.7,1902C754.4,1904 761.9,1906.7 767.6,1908.7C773.3,1910.7 780.8,1913.4 786.5,1915.3C793.5,1917.7 802.9,1920.9 810,1923.2C823.4,1927.6 841.4,1933.2 854.7,1937.9C866.1,1941.9 881.2,1947.8 892.5,1952.3C901.1,1955.8 912.4,1960.8 920.9,1964.6C927.2,1967.4 935.7,1970.9 941.8,1974.1C945.4,1976 949.5,1979.9 953.1,1981.7C957.4,1983.9 963.9,1985.3 968.3,1987.3C971.3,1988.7 974.8,1991.4 977.7,1993C984.5,1996.8 993.8,2001.3 1000.4,2005.3C1002.3,2006.4 1004.2,2008.9 1006.1,2010.1C1008.8,2011.9 1014.2,2013.2 1015.6,2015.4C1016.5,2016.8 1012.7,2020.6 1013.7,2022C1015.6,2024.6 1021.6,2026.8 1025.1,2028.6C1030.7,2031.4 1038.3,2034.7 1044,2037.1C1048.5,2039 1054.6,2041 1059.1,2042.8C1066,2045.6 1075.1,2049.4 1081.9,2052.3C1087.6,2054.8 1095.2,2058.1 1100.8,2060.8C1106.5,2063.5 1114.1,2067.4 1119.7,2070.3C1125.5,2073.3 1133.5,2077 1138.7,2080.7C1140.3,2081.9 1140.8,2085.2 1142.4,2086.4C1146.9,2090 1153.9,2093.8 1158.9,2096.8C1163.9,2099.8 1172.2,2102.7 1176,2106.3C1177.3,2107.5 1174.9,2111.5 1176,2112.9C1178.3,2116 1183.8,2119 1187.3,2121.4C1191.2,2124.1 1198.5,2127 1200.6,2129.9C1201.4,2131 1195.9,2133.7 1196.8,2134.7C1199.3,2137.4 1207.6,2139.6 1211.9,2142.2C1215,2144.1 1218.4,2147.8 1221.4,2149.8C1225.2,2152.3 1230.6,2155.2 1234.7,2157.4C1240.3,2160.4 1247.9,2164.1 1253.6,2166.9C1259.3,2169.7 1267,2173.3 1272.5,2176.3C1278.3,2179.5 1285.7,2184.5 1291.5,2187.7C1295.4,2189.9 1300.7,2192.4 1304.7,2194.3C1309.2,2196.4 1315.4,2198.8 1319.9,2200.9C1322.2,2202 1325.3,2203.3 1327.4,2204.7C1329.3,2205.9 1331.1,2208.4 1333.1,2209.4C1336.8,2211.3 1342.7,2212.3 1346.4,2214.2C1348.3,2215.2 1351.7,2217.3 1352,2218.9C1352.3,2220.2 1349.8,2223.1 1348.3,2223.6C1345.9,2224.5 1341.3,2222.6 1338.8,2223.6C1336.2,2224.6 1333.9,2229.3 1331.2,2230.3C1326.6,2231.9 1319.2,2231 1314.2,2232.2C1310.6,2233 1301.5,2235.4 1302.8,2236.9C1306,2240.5 1321.2,2245.8 1329.3,2249.2C1340.6,2254 1355.8,2260 1367.2,2264.4C1378.5,2268.7 1393.7,2274 1405.1,2278.2C1416.5,2282.4 1431.5,2288.1 1442.9,2292.2C1454.2,2296.3 1469.4,2301.4 1480.8,2305.4C1492.2,2309.4 1507.3,2314.7 1518.7,2318.7C1521.5,2319.7 1528.1,2322.1 1528.1,2322.1"/>
<path class="c" stroke="#FFC77F" d="M417.3,1424.5C417.3,1424.5 417.9,1431.5 419.2,1433.9C420.7,1436.6 424.5,1439.2 426.8,1441.5C429.1,1443.8 432.1,1446.9 434.4,1449.1C437.2,1451.7 441.1,1454.9 443.8,1457.6C445.6,1459.4 449.5,1462.4 449.5,1464.2C449.5,1465.8 443.4,1467.7 443.8,1469C444.5,1471.1 450.5,1473.6 453.3,1475.6C455.6,1477.3 458.7,1479.5 460.9,1481.3C463.2,1483.2 466.1,1486.1 468.5,1487.9C470.6,1489.5 474.1,1490.8 476,1492.6C477.5,1494 479.5,1496.5 479.8,1498.3C480.1,1499.9 477.6,1502.4 477.9,1504C478.2,1505.8 481.7,1507.9 481.7,1509.7C481.7,1511.9 479.8,1515.9 477.9,1517.2C474.7,1519.3 467.9,1519 464.7,1521C463.3,1521.9 462.8,1525 462.8,1526.7C462.8,1527.9 465.3,1529.7 464.7,1530.5C463.1,1532.6 457.2,1533.9 455.2,1536.2C453.8,1537.8 454.2,1541.6 453.3,1543.7C452.4,1545.8 451.3,1549.2 449.5,1550.4C446.2,1552.6 440.3,1553.9 436.3,1555.1C430.7,1556.7 423,1558.5 417.3,1559.8C413.4,1560.7 408,1561.5 404.1,1562.7C402.3,1563.2 398,1564.6 398.4,1565.5C399.1,1567.1 405.1,1569.5 407.9,1571.2C410.2,1572.6 413.1,1574.6 415.4,1575.9C418.7,1577.7 423.3,1580 426.8,1581.6C432.4,1584.2 440,1587.6 445.7,1590.1C450.3,1592.1 456.4,1594.7 460.9,1596.8C463.8,1598.1 470.3,1600.3 470.3,1601.5C470.3,1602.6 463.7,1603.3 460.9,1604.3C458,1605.3 451.4,1606.7 451.4,1608.1C451.4,1609.6 457.9,1612.3 460.9,1613.8C464.7,1615.7 470.3,1617.4 474.1,1619.5C476.6,1620.9 479.5,1623.4 481.7,1625.2C483.5,1626.7 485.3,1629.7 487.4,1630.8C491.6,1633.1 498.1,1634.6 502.5,1636.5C504.6,1637.4 509.2,1639.2 509.2,1640.3C509.2,1641.4 504.7,1643.4 502.5,1644.1C497,1645.7 489.3,1647.1 483.6,1647.9C475.1,1649.1 463.7,1649.8 455.2,1650.7C446.7,1651.6 435.1,1652.1 426.8,1653.6C424.3,1654.1 421.3,1656 419.2,1657.3C416.8,1658.8 412.4,1661.2 411.7,1663C411.3,1664 415.8,1665.8 415.4,1666.8C414.7,1668.6 410.2,1670.8 407.9,1672.5C405.6,1674.2 400.3,1676.3 400.3,1678.2C400.3,1680.3 405.3,1683.9 407.9,1685.7C410.4,1687.4 416.3,1688.2 417.3,1690C418,1691.2 415.2,1694.8 413.5,1695.7C410.1,1697.6 403.8,1697.8 400.3,1699.5C399.2,1700 397.9,1702.4 398.4,1703.3C399.6,1705.2 403.8,1707.1 406,1708.9C407.8,1710.5 409.7,1713.3 411.7,1714.6C414.8,1716.7 422.3,1718.5 423,1720.3C423.5,1721.6 415.7,1723.4 415.4,1725C415.1,1726.5 419.3,1729.1 421.1,1730.7C423.3,1732.6 426.8,1734.4 428.7,1736.4C429.7,1737.5 429.4,1740.3 430.6,1741.1C434.5,1743.7 441.2,1745.6 445.7,1747.7C451.5,1750.4 458.9,1754.5 464.7,1757.2C470.3,1759.9 478,1763 483.6,1765.7C488.2,1767.9 494.2,1771 498.7,1773.3C502.1,1775 507.2,1776.7 510.1,1779C512.3,1780.7 514.2,1784.2 515.8,1786.6C517.1,1788.5 517.9,1791.7 519.6,1793.2C522.5,1795.7 527.6,1797.7 530.9,1799.8C533.8,1801.7 537.3,1804.9 540.4,1806.4C545.8,1808.9 553.7,1811 559.3,1813.1C565,1815.2 572.6,1818.5 578.3,1820.6C583.9,1822.7 591.6,1825.1 597.2,1827.3C603,1829.6 610.3,1833.5 616.1,1835.8C621.7,1838 629.5,1840.3 635.1,1842.4C640.8,1844.5 648.3,1847.7 654,1850C659.7,1852.3 667.2,1855.5 672.9,1857.6C678.5,1859.7 686.7,1861.6 691.9,1864.2C693.5,1865 694.1,1868.1 695.6,1868.9C699.7,1871.2 706.2,1872.9 710.8,1874.6C716.4,1876.6 724.1,1879.1 729.7,1881.2C735.4,1883.4 743,1886.5 748.7,1888.8C754.4,1891.1 761.9,1894.3 767.6,1896.4C773.2,1898.5 780.9,1900.9 786.5,1903C793.6,1905.6 802.9,1909.5 810,1912.2C823.4,1917.3 841.2,1924.2 854.7,1929.2C868.8,1934.4 887.8,1941 902,1946.1C916.2,1951.2 935.1,1958 949.3,1963.3C963.6,1968.6 982.5,1975.8 996.7,1981.3C1010.9,1986.8 1029.8,1994.4 1044,1999.8C1058.1,2005.2 1077.1,2012.1 1091.3,2017.3C1099.8,2020.4 1111.2,2024.4 1119.7,2027.7C1123.7,2029.3 1129.5,2031 1133,2033.4C1135.2,2035 1136.7,2039 1138.7,2040.9C1140.6,2042.7 1145.9,2044.1 1146.2,2045.7C1146.5,2047 1139.6,2049.4 1140.6,2050.4C1143,2052.8 1152.5,2054.9 1157.6,2057C1161.6,2058.6 1167.3,2060.3 1170.8,2062.7C1174.1,2064.9 1176.9,2070.1 1180.3,2072.2C1185.9,2075.8 1194.7,2078.5 1200.6,2081.7C1205.3,2084.2 1212.1,2087.7 1215.7,2091.1C1216.7,2092 1214.8,2095 1215.7,2095.9C1219.3,2099.5 1226.9,2102.7 1230.9,2106.3C1233.1,2108.3 1235.3,2112.1 1236.6,2114.8C1237,2115.5 1236.1,2117 1236.6,2117.6C1238.4,2120.1 1242.3,2122.6 1244.1,2125.2C1245.1,2126.6 1244.9,2129.6 1246,2130.9C1247.2,2132.4 1251.7,2133.5 1251.7,2134.7C1251.7,2136 1246.7,2137.6 1246,2139.4C1245.3,2141.3 1247.9,2145.1 1247,2147C1245.6,2149.9 1241.3,2153.2 1238.5,2155.5C1236.4,2157.2 1230.4,2159 1230.9,2160.2C1231.5,2161.8 1238.9,2163.4 1242.2,2165C1246.8,2167.1 1252.8,2170.2 1257.4,2172.5C1261.9,2174.8 1268,2177.8 1272.5,2180.1C1275.9,2181.8 1280.4,2184.2 1283.9,2185.8C1287.8,2187.6 1295.6,2189.3 1297.1,2191.5C1297.9,2192.7 1290.8,2195.8 1291.5,2197.1C1292.6,2199.2 1300.2,2200.6 1302.8,2202.8C1303.6,2203.5 1303.8,2206.4 1302.8,2206.6C1294.7,2207.9 1281.6,2207.3 1272.5,2207.6C1262.3,2207.9 1242.3,2206.8 1238.5,2208.5C1236.6,2209.3 1249,2213.9 1253.6,2216.1C1259.2,2218.8 1267.2,2221.5 1272.5,2224.6C1274,2225.5 1274.8,2228.5 1276.3,2229.3C1280.5,2231.6 1286.9,2233.3 1291.5,2235C1297.1,2237 1304.7,2239.6 1310.4,2241.6C1316.1,2243.6 1323.7,2246.1 1329.3,2248.3C1332.2,2249.5 1335.9,2251.8 1338.8,2253C1344.4,2255.2 1352,2257.6 1357.7,2259.6C1363.4,2261.6 1371,2264.2 1376.7,2266.2C1385.2,2269.3 1396.6,2273.5 1405.1,2276.7C1416.4,2280.9 1431.5,2286.8 1442.9,2290.9C1454.2,2295 1469.4,2300.1 1480.8,2304.1C1492.2,2308.1 1507.3,2313.6 1518.7,2317.4C1524.3,2319.3 1537.6,2323 1537.6,2323"/>
</g>
<g class="tk" fill="#262626" text-anchor="middle">
<text x="482.4" y="2383.3">-50</text>
<text x="661.6" y="2383.3">-40</text>
<text x="840.8" y="2383.3">-30</text>
<text x="1020" y="2383.3">-20</text>
<text x="1199.2" y="2383.3">-10</text>
<text x="1378.4" y="2383.3">0</text>
<text x="1557.6" y="2383.3">10</text>
</g>
<g class="tk" fill="#0072BD" text-anchor="end">
<text x="357.3" y="2339.5">0</text>
<text x="357.3" y="2039.5">5</text>
<text x="357.3" y="1739.5">10</text>
<text x="357.3" y="1439.5">15</text>
</g>
<text class="lb" fill="#262626"><tspan x="608.4" y="2457.6">Temperature (</tspan><tspan x="941.6" y="2438.2" font-size="39px">o</tspan><tspan x="967.1" y="2457.6">C) on 20240925</tspan></text>
<text class="lb" fill="#0072BD" text-anchor="middle" transform="translate(278.5 1875.5) rotate(-90)">Altitude, AGL km</text>
<g class="lg">
<line x1="1108.4" y1="1496" x2="1233.4" y2="1496" stroke="#000000" stroke-width="8.33"/>
<text x="1245.8" y="1508.6">05:30 UTC</text>
<line x1="1108.4" y1="1548.3" x2="1233.4" y2="1548.3" stroke="#6A422A" stroke-width="8.33"/>
<text x="1245.8" y="1560.9">11:30 UTC</text>
<line x1="1108.4" y1="1600.6" x2="1233.4" y2="1600.6" stroke="#D48555" stroke-width="8.33"/>
<text x="1245.8" y="1613.2">17:30 UTC</text>
<line x1="1108.4" y1="1652.9" x2="1233.4" y2="1652.9" stroke="#FFC77F" stroke-width="8.33"/>
<text x="1245.8" y="1665.5">23:30 UTC</text>
</g>
</g>
<g id="panel-rh">
<clipPath id="clip3"><rect x="1800.5" y="1425" width="1200" height="901"/></clipPath>
<g stroke="#262626" stroke-width="2.3" fill="none">
<line x1="1800.5" y1="2325.5" x2="3000.5" y2="2325.5"/>
<line x1="1800.5" y1="2325.5" x2="1800.5" y2="2312.5"/>
<line x1="2040.5" y1="2325.5" x2="2040.5" y2="2312.5"/>
<line x1="2280.5" y1="2325.5" x2="2280.5" y2="2312.5"/>
<line x1="2520.5" y1="2325.5" x2="2520.5" y2="2312.5"/>
<line x1="2760.5" y1="2325.5" x2="2760.5" y2="2312.5"/>
<line x1="3000.5" y1="2325.5" x2="3000.5" y2="2312.5"/>
</g>
<g stroke="#0072BD" stroke-width="2.3" fill="none">
<line x1="1800.5" y1="1424.3" x2="1800.5" y2="2326.7"/>
<line x1="3000.5" y1="1424.3" x2="3000.5" y2="2326.7"/>
<line x1="1800.5" y1="2325.5" x2="1813.5" y2="2325.5"/>
<line x1="1800.5" y1="2025.5" x2="1813.5" y2="2025.5"/>
<line x1="1800.5" y1="1725.5" x2="1813.5" y2="1725.5"/>
<line x1="1800.5" y1="1425.5" x2="1813.5" y2="1425.5"/>
</g>
<g clip-path="url(#clip3)">
<path class="c" stroke="#000000" d="M1812.7,1423C1812.7,1423 1812.7,1473.4 1812.7,1495C1812.7,1519 1812.5,1551.1 1812.7,1575.1C1812.9,1591.1 1813.2,1612.4 1814,1628.4C1814.4,1636.4 1816.1,1647.1 1816.7,1655.1C1817.3,1663.1 1816.4,1674.1 1818,1681.8C1818.8,1685.7 1823.1,1690.1 1824.7,1693.8C1825.5,1695.7 1824.4,1699.8 1826,1700.5C1830,1702.4 1838.2,1701.9 1843.4,1702.6C1851.4,1703.7 1862,1705.1 1870,1706.3C1878,1707.5 1891.5,1708.8 1896.7,1710.6C1897.9,1711 1890.1,1713.6 1891.4,1713.8C1898.1,1714.9 1913.8,1714.6 1923.4,1715.1C1939.4,1715.8 1960.7,1717.1 1976.7,1717.8C1992.7,1718.5 2014.1,1719.3 2030.1,1719.9C2044.5,1720.5 2072.6,1720.6 2078.1,1721.8C2080.6,1722.4 2054,1725.3 2056.8,1725.8C2063.6,1727.1 2094.1,1727.1 2110.1,1727.7C2126.1,1728.3 2147.5,1728.8 2163.5,1729.8C2165.9,1729.9 2173,1731.2 2171.5,1731.4C2165,1732.4 2147.2,1733.4 2136.8,1733.8C2120.8,1734.5 2099.5,1734.7 2083.5,1735.1C2067.5,1735.5 2046.1,1736 2030.1,1736.5C2014.1,1737 1992.7,1737.7 1976.7,1738.3C1964.7,1738.7 1948.5,1738.9 1936.7,1739.9C1935.7,1740 1933.3,1741.6 1934.1,1741.8C1940.5,1743.4 1955.7,1743.7 1960.7,1745.8C1962,1746.4 1957.4,1750 1955.4,1750.6C1947.8,1752.8 1936.6,1753.5 1928.7,1755.1C1922.2,1756.4 1913.2,1758 1907.4,1760.5C1905.6,1761.2 1902.2,1765.1 1903.4,1765.8C1907,1767.9 1917.3,1769.2 1923.4,1769.8C1939.3,1771.3 1960.7,1771.6 1976.7,1772.5C1987.1,1773.1 2011.4,1773.9 2011.4,1774.6C2011.4,1775.3 1987.1,1776.8 1976.7,1777.3C1963.1,1777.9 1937,1777.8 1931.4,1778.4C1929.1,1778.6 1944.5,1779.9 1950.1,1780C1982.1,1780.7 2024.8,1780.6 2056.8,1781C2088.8,1781.4 2131.5,1782 2163.5,1782.6C2203.5,1783.3 2256.9,1784.2 2296.9,1785.3C2304.9,1785.5 2315.6,1786.8 2323.6,1787.2C2346,1788.2 2394,1788.9 2398.3,1789.8C2401.2,1790.4 2344.1,1792 2347.6,1792.5C2353.3,1793.4 2404.5,1794 2428.9,1794.5C2458.3,1795.1 2497.6,1795.5 2527,1796.1C2541.7,1796.4 2561.9,1795.8 2576.1,1797.7C2578.4,1798 2583.3,1802.5 2582,1803.3C2578.4,1805.5 2566.5,1806.9 2559.7,1807.5C2548,1808.6 2528.8,1808 2520.5,1809.2C2519,1809.4 2528.9,1812.3 2527,1812.4C2501.4,1813.9 2458.3,1814 2428.9,1814.7C2406.3,1815.3 2373.8,1814.9 2353.7,1816.7C2352.2,1816.8 2358.4,1821.1 2357,1821.3C2346.6,1822.8 2326.4,1821.1 2314.5,1822.3C2313.6,1822.4 2313.6,1825.4 2314.5,1825.5C2322.5,1826.8 2346.4,1826.7 2343.9,1827.2C2339.5,1828.1 2307.3,1829.3 2291.6,1830.4C2273.9,1831.7 2250.4,1834.1 2232.7,1835.3C2223.9,1835.9 2198.7,1836.1 2203.3,1836.3C2218.3,1837.1 2269.7,1838.2 2298.1,1838.6C2347.1,1839.3 2412.5,1839.8 2461.6,1840.2C2500.8,1840.5 2553.2,1840.7 2592.4,1840.9C2603.7,1841 2628.3,1840.2 2630,1841.2C2631.3,1842 2599.4,1846.1 2602.2,1846.8C2607.7,1848.2 2641.6,1846.8 2657.8,1848.4C2659.7,1848.6 2664.4,1852.5 2662.7,1852.7C2644.7,1854.7 2600.1,1854.5 2592.4,1855.6C2588.8,1856.1 2616.6,1856.2 2625.1,1858.2C2626.4,1858.5 2623.7,1863 2625.1,1863.1C2653.1,1865 2693.8,1864.3 2723.2,1864.8C2757.5,1865.3 2814.8,1865.4 2837.7,1866.4C2842.3,1866.6 2811.2,1868.6 2814.8,1869C2825.9,1870.1 2865.1,1870.3 2886.7,1871.3C2900,1871.9 2933,1873.6 2930.9,1874.6C2928.1,1875.9 2888.6,1878.1 2870.4,1878.8C2845.9,1879.7 2813.1,1879.8 2788.6,1880.1C2759.2,1880.5 2719.9,1880.6 2690.5,1881.1C2661.1,1881.6 2621.8,1882.9 2592.4,1883.4C2563,1883.9 2523.7,1884.1 2494.3,1884.4C2464.9,1884.7 2425.6,1885.1 2396.2,1885.4C2376.6,1885.6 2350.4,1885.8 2330.8,1886C2288.6,1886.5 2232.4,1887.4 2190.2,1887.6C2155.8,1887.8 2109.9,1887.3 2075.5,1887.4C2055.5,1887.5 2009.2,1887.4 2008.8,1888.2C2008.4,1889 2074.3,1891.7 2072.8,1892.7C2071.1,1893.9 2020.5,1894 1998.1,1895.4C1991.6,1895.8 1983.1,1897.7 1976.7,1898.8C1968.7,1900.1 1958.1,1902 1950.1,1903.4C1942.1,1904.8 1931.5,1907.1 1923.4,1908.2C1907.4,1910.3 1886,1912.6 1870,1914.1C1858,1915.2 1841.4,1914.5 1830,1916.7C1827,1917.3 1823,1921.1 1822,1923.4C1821.4,1924.7 1823.8,1927.1 1824.7,1928.7C1825.8,1930.7 1829.4,1933.8 1828.7,1935.4C1827.7,1937.8 1821.4,1939.5 1819.3,1942.1C1817.8,1944 1815.1,1949 1816.7,1950.1C1820.8,1953 1831.9,1953.2 1838,1955.4C1840.7,1956.4 1843.4,1959.5 1846,1960.7C1850.2,1962.7 1862.6,1965.4 1860.7,1966.1C1856.2,1967.8 1834.6,1966.2 1824.7,1968.7C1821.8,1969.4 1819.2,1973.9 1818,1976.7C1816.4,1980.3 1815.6,1986 1815.3,1990.1C1814.8,1998.1 1815.5,2008.8 1815.3,2016.8C1815.1,2023.2 1816,2032.4 1814,2038.1C1812.8,2041.6 1801.6,2047 1804.7,2047.4C1826.4,2050.2 1869.1,2048.4 1896.7,2048.8C1928.7,2049.2 1971.4,2049.5 2003.4,2050.1C2035.4,2050.7 2078.1,2051.7 2110.1,2052.8C2114.1,2052.9 2126.7,2053.9 2123.5,2054.1C2094.7,2055.5 2034.7,2055.9 2003.4,2058.1C2001.1,2058.3 2008.7,2062 2011.4,2062.1C2040.8,2063.2 2080.5,2061.7 2110.1,2062.1C2141.3,2062.5 2203.4,2063.4 2214.2,2064.8C2219.5,2065.5 2178.7,2067.7 2163.5,2068.8C2150.7,2069.7 2117.7,2070.7 2120.8,2071.5C2125.8,2072.7 2169.4,2075 2190.2,2075.5C2256.1,2077 2344.1,2077.2 2410,2078.1C2435.3,2078.4 2469,2079.3 2494.3,2079.6C2543.3,2080.2 2608.8,2080.8 2657.8,2081.3C2701,2081.8 2768.9,2081.6 2801.7,2082.9C2806.2,2083.1 2781.9,2085.3 2782.1,2086.2C2782.4,2087.1 2803.4,2087.7 2803.4,2088.8C2803.4,2089.9 2782.4,2092.3 2782.1,2093.7C2781.9,2095 2805.3,2097.4 2801.7,2097.9C2787.6,2099.9 2746.8,2100.8 2723.2,2101.9C2703.6,2102.8 2677.4,2104 2657.8,2104.5C2618.6,2105.5 2566.2,2106.3 2527,2106.8C2497.6,2107.2 2458.3,2107.5 2428.9,2107.7C2423.2,2107.7 2415.7,2107.5 2410,2107.5C2368.1,2107.8 2312.1,2108.2 2270.2,2108.8C2230.2,2109.4 2176.8,2110.7 2136.8,2111.5C2112.8,2111.9 2080.8,2111.8 2056.8,2112.8C2040.8,2113.4 2019.4,2115.4 2003.4,2116.8C1992.2,2117.8 1977.2,2119.1 1966.1,2120.8C1961.2,2121.5 1954.9,2123.7 1950.1,2124.8C1942.1,2126.5 1931.4,2128.5 1923.4,2130.1C1915.4,2131.7 1904.7,2133.8 1896.7,2135.5C1887.9,2137.4 1868.2,2139.4 1867.4,2142.2C1866.7,2144.6 1892.8,2150.3 1891.4,2152.7C1889.6,2155.9 1867.2,2158.6 1856.7,2160.7C1851.1,2161.8 1843.6,2162.3 1838,2163.3C1832.4,2164.3 1821.8,2164.6 1819.3,2167.3C1817.8,2169 1822.9,2174.9 1824.7,2178C1826.1,2180.5 1830,2183.6 1830,2186C1830,2188.4 1824.5,2191.7 1824.7,2194C1824.9,2196.5 1831,2199.4 1831.4,2202C1831.8,2204.2 1827.5,2207.5 1827.3,2210C1827,2213.9 1830.4,2219.5 1830,2223.4C1829.6,2227.5 1824.5,2232.9 1824.7,2236.7C1824.9,2240.1 1829.8,2244 1831.4,2247.4C1832.2,2249.2 1830.8,2254 1832.7,2254.1C1858.4,2256 1896.2,2254.1 1923.4,2254.1C1963.4,2254.1 2016.8,2254 2056.8,2254.1C2096.8,2254.2 2150.2,2254.7 2190.2,2254.9C2230.2,2255.1 2283.6,2255.2 2323.6,2255.4C2349.5,2255.5 2384.2,2255.1 2410,2255.9C2413.7,2256 2418.3,2258.5 2422,2258.6C2452.3,2259.5 2493,2259.2 2523.4,2259.4C2563.4,2259.6 2616.8,2259.7 2656.8,2259.9C2684.8,2260.1 2722.2,2260.3 2750.2,2260.7C2788.6,2261.3 2864.7,2261.8 2878.2,2263.4C2884.7,2264.2 2835.3,2266.8 2816.9,2268.7C2800.8,2270.4 2779.5,2273.4 2763.5,2275.4C2747.5,2277.4 2726.1,2280.1 2710.1,2282.1C2694.1,2284.1 2672.8,2286.5 2656.8,2288.7C2640.8,2290.9 2619.4,2294 2603.4,2296.7C2590.5,2298.8 2572.6,2301 2560.7,2304.7C2558.6,2305.4 2558.7,2310.6 2556.7,2311.4C2552.3,2313.2 2544.6,2313.1 2539.4,2313.5C2534.6,2313.9 2527.7,2313.1 2523.4,2314.1C2522.3,2314.4 2521.3,2317.8 2521.3,2317.8"/>
<path class="c" stroke="#6A422A" d="M1810,1423C1810,1423 1810.1,1473.4 1810,1495C1809.9,1519 1809.1,1551.1 1809.2,1575.1C1809.3,1591.1 1810.1,1612.4 1810.8,1628.4C1811.2,1636.4 1812.6,1647.1 1812.7,1655.1C1812.8,1663.1 1811.3,1673.8 1811.3,1681.8C1811.3,1689.8 1812,1700.5 1812.7,1708.5C1813.2,1714.1 1813.7,1721.8 1815.3,1727.1C1816.5,1731.4 1821.7,1736.6 1822,1740.5C1822.2,1743 1816.9,1746 1816.7,1748.5C1816.5,1750.8 1819.1,1754.4 1820.7,1756.5C1821.9,1758.2 1826.2,1759.7 1826,1761.3C1825.7,1763.7 1820.6,1766.9 1819.3,1769.8C1817.4,1774.2 1815.3,1781.1 1815.3,1785.8C1815.3,1789.1 1818.5,1793.2 1819.3,1796.5C1820.1,1799.6 1821.1,1804.1 1820.7,1807.2C1820.3,1810.1 1816.1,1813.9 1816.7,1816.5C1817.7,1820.3 1824.5,1824.5 1826,1828.5C1826.9,1831 1823.6,1835.7 1824.7,1838C1826.4,1841.4 1832.1,1844.7 1835.4,1847.4C1838.5,1849.9 1846.4,1853.5 1846,1855.4C1845.6,1857.5 1836.1,1858.3 1832.7,1860.7C1829.8,1862.7 1827,1867.1 1824.7,1870C1822.2,1873.1 1818.3,1877.1 1816.7,1880.7C1814.7,1885.1 1813.3,1891.8 1812.7,1896.7C1811.7,1904.6 1811.1,1915.4 1811.3,1923.4C1811.4,1928.2 1814.2,1934.6 1814,1939.4C1813.8,1946.6 1810.8,1956.2 1810,1963.4C1809.2,1971.4 1809.1,1982.1 1808.7,1990.1C1808.3,1998.1 1807.3,2008.8 1807.3,2016.8C1807.3,2024.8 1808.5,2035.4 1808.7,2043.4C1808.9,2051.4 1808.5,2062.1 1808.7,2070.1C1808.9,2075.7 1808.2,2083.8 1810,2088.8C1811.4,2092.6 1816,2096.9 1819.3,2099.5C1822,2101.7 1829.6,2102.8 1830,2104.8C1830.4,2106.7 1823.8,2110.1 1822,2112.8C1820.6,2114.9 1819.3,2118.5 1819.3,2120.8C1819.3,2122.4 1822.3,2124.5 1822,2126.1C1821.5,2129.3 1817.1,2133.5 1816.7,2136.8C1816.3,2139.9 1819.8,2144.4 1819.3,2147.5C1818.6,2151.6 1814.7,2158.2 1812.7,2160.8C1812.3,2161.3 1810.8,2157.8 1811.3,2158C1812.8,2158.6 1816.6,2162.6 1819.3,2163.3C1826.2,2165 1836.7,2164 1843.4,2166C1846.3,2166.8 1849.2,2170.5 1851.4,2172.7C1852.4,2173.7 1852.7,2176.4 1854,2176.7C1862.3,2178.4 1877.4,2176.7 1883.4,2179.4C1885.4,2180.3 1882,2186.2 1880.7,2188.7C1878.8,2192.2 1874.4,2196 1872.7,2199.4C1872,2200.8 1871.4,2204.3 1872.7,2204.7C1878.6,2206.7 1890.2,2205.2 1896.7,2207.4C1899.8,2208.4 1901.5,2214.8 1904.7,2215.4C1917.5,2217.9 1936.5,2217 1950.1,2218C1960.1,2218.7 1977.3,2218.6 1983.4,2221.2C1985.3,2222 1979.6,2228.8 1976.7,2229.2C1961.6,2231.5 1939.4,2229.9 1923.4,2230.3C1910.6,2230.6 1887.2,2229.5 1880.7,2231.4C1878.4,2232.1 1889.5,2238.4 1894,2238.8C1926.3,2242 1970.6,2242.3 2003.4,2243.4C2035.4,2244.5 2078.1,2244.9 2110.1,2246C2134.1,2246.9 2166.2,2249.5 2190.2,2250.1C2230.2,2251.1 2283.6,2251 2323.6,2251.4C2349.5,2251.6 2384.1,2252.1 2410,2252.2C2444,2252.3 2489.4,2252.1 2523.4,2252.2C2563.4,2252.3 2616.8,2252.5 2656.8,2252.7C2696.8,2252.9 2750.2,2252.9 2790.2,2253.3C2810.2,2253.5 2856.9,2254 2856.9,2254.9C2856.9,2255.8 2810.2,2257.5 2790.2,2259.1C2778.2,2260.1 2762.2,2261.8 2750.2,2263.4C2722.1,2267.3 2684.8,2273.3 2656.8,2277.5C2640.8,2279.9 2619.5,2283.2 2603.4,2285.3C2590.6,2287 2573.5,2289 2560.7,2290.1C2543.9,2291.5 2521.4,2291.8 2504.7,2293.8C2498.2,2294.6 2484.7,2296.5 2483.4,2299.4C2482.3,2301.8 2492.9,2307.6 2496.7,2311.4C2498.5,2313.1 2502,2317.8 2502,2317.8"/>
<path class="c" stroke="#D48555" d="M1818.8,1423C1818.8,1423 1818.4,1473.4 1818.3,1495C1818.2,1511 1818.7,1532.4 1818,1548.4C1817.8,1553.3 1815.4,1559.6 1815.3,1564.4C1815,1575.5 1815.6,1590.6 1816.7,1601.7C1817.2,1606.6 1819.3,1613 1820.7,1617.8C1822,1622.3 1825.6,1627.9 1826,1632.4C1826.4,1636.7 1823.9,1642.7 1823.3,1647.1C1822.7,1651.1 1822.5,1656.4 1822,1660.4C1821.3,1666.8 1819.5,1675.4 1819.3,1681.8C1819.1,1686.6 1820.3,1693 1820.7,1697.8C1820.9,1700.6 1819.5,1705.9 1821.5,1707.1C1826.3,1709.9 1837.1,1709.1 1843.4,1711.1C1846.1,1712 1848.7,1715.6 1851.4,1716.5C1857.5,1718.5 1866.7,1718.6 1872.7,1720.5C1874.3,1721 1877.1,1723.7 1876.7,1724.5C1876.3,1725.5 1869.8,1725.6 1870,1726.6C1870.2,1728 1876.8,1730.3 1878,1732.5C1878.8,1734 1875.3,1738.4 1876.7,1739.1C1880.9,1741.2 1890.8,1740.6 1896.7,1741.8C1900.8,1742.6 1906.1,1744.4 1910.1,1745.8C1914.2,1747.2 1920.1,1748.7 1923.4,1751.1C1925.6,1752.7 1928.3,1756.5 1928.7,1759.1C1929.1,1761.4 1924.9,1765.6 1926.1,1767.2C1928.1,1770 1937.8,1771.4 1939.4,1773.8C1940.2,1775 1933.5,1777.9 1934.1,1779.2C1935.1,1781.2 1941.3,1783.5 1944.7,1784.5C1954.1,1787.1 1967.2,1788.8 1976.7,1791.2C1982.8,1792.8 1994.7,1795.2 1996.8,1797.8C1997.9,1799.2 1990.5,1803.2 1987.4,1804.5C1982.9,1806.4 1972.9,1806.7 1971.4,1808.5C1970.5,1809.5 1978.9,1812 1979.4,1813.8C1979.8,1815.2 1976.1,1818.3 1974.1,1819.2C1968.9,1821.5 1960.8,1822.5 1955.4,1824.5C1954.3,1824.9 1951.9,1826.8 1952.7,1827.2C1955.9,1828.8 1968.3,1829.7 1968.7,1831.2C1969.1,1832.5 1959.5,1835.3 1955.4,1836.5C1949.9,1838.1 1941.8,1838.5 1936.7,1840.7C1934.2,1841.8 1930.5,1845.2 1930.1,1847.4C1929.7,1849.2 1932.6,1852.3 1934.1,1854C1936.2,1856.3 1939.1,1860.1 1942.1,1860.7C1951.9,1862.5 1967.1,1860.1 1976.7,1862C1979.1,1862.5 1979.9,1867.9 1982.1,1868.7C1986.3,1870.3 1993.9,1868.4 1998.1,1870C2001.1,1871.2 2007.1,1876.4 2006.1,1878C2004.7,1880.4 1992.3,1881.2 1990.1,1883.4C1989.1,1884.4 1996.5,1887.6 1995.4,1888.7C1992.5,1891.6 1982.2,1894.1 1976.7,1896.7C1971.8,1898.9 1960.7,1903 1960.7,1904.7C1960.7,1906.2 1976.3,1905.9 1976.7,1907.4C1977.1,1908.7 1964.1,1912 1963.4,1914.1C1962.9,1915.6 1973,1917.6 1972.7,1919.4C1972.2,1922 1964.4,1926.1 1960.7,1928.7C1957.6,1930.9 1953.3,1933.5 1950.1,1935.4C1947.3,1937.1 1940.7,1939.3 1940.7,1940.7C1940.7,1942.1 1947.3,1943.5 1950.1,1944.7C1954.1,1946.3 1959.3,1948.8 1963.4,1950.1C1967.3,1951.4 1972.7,1952.2 1976.7,1953.3C1981.6,1954.6 1989.5,1955.5 1992.8,1958.1C1994.4,1959.3 1991,1965 1992.8,1966.1C1998.2,1969.4 2009.6,1970.9 2016.8,1972.7C2025.5,1974.9 2043.5,1977.3 2046.1,1979.4C2047.5,1980.5 2034.8,1981.9 2030.1,1983.4C2026,1984.7 2020.9,1987.4 2016.8,1988.8C2011.3,1990.6 2003.8,1992.9 1998.1,1994.1C1992.6,1995.3 1981.5,1995 1979.4,1996.8C1978.3,1997.8 1984.5,2002.6 1987.4,2003.4C1995.7,2005.8 2011.4,2004.7 2016.8,2007.4C2018.6,2008.3 2009.3,2014.9 2011.4,2015.4C2021.3,2017.7 2043.2,2016.4 2056.8,2016.8C2072.8,2017.2 2094.1,2017.3 2110.1,2018.1C2118.1,2018.5 2128.8,2019.8 2136.8,2020.8C2144.8,2021.8 2155.7,2022.8 2163.5,2024.8C2170.1,2026.4 2184.8,2031.2 2184.8,2032.8C2184.8,2034.3 2169.8,2034.4 2163.5,2035.4C2157.8,2036.3 2144.8,2038.2 2144.8,2039.4C2144.8,2040.6 2160.2,2040.3 2163.5,2043.4C2165.8,2045.6 2166.5,2055.4 2163.5,2056.8C2154.5,2061 2129.4,2059.7 2123.5,2062.1C2121.4,2062.9 2132.6,2066.5 2136.8,2067.5C2143.8,2069.3 2156.5,2069.4 2160.8,2071.5C2162.1,2072.2 2154.5,2076 2155.5,2076.8C2157.7,2078.4 2171.1,2078.2 2171.5,2079.5C2171.9,2080.6 2162.3,2083.7 2158.2,2084.8C2151.9,2086.5 2138.2,2086.7 2136.8,2088.8C2135.8,2090.3 2151.7,2095.5 2150.2,2096.8C2147.7,2099.1 2131.4,2099.1 2123.5,2100.8C2116.2,2102.3 2096.1,2106.8 2099.5,2107.5C2108.1,2109.2 2144.3,2108.1 2163.5,2108.8C2179.5,2109.3 2201.1,2109.4 2216.9,2111.5C2225.1,2112.6 2243.5,2117.7 2243.5,2119.5C2243.5,2121.3 2224.9,2122.2 2216.9,2123.5C2212.9,2124.2 2201.5,2125.8 2203.5,2126.1C2209.5,2127 2247.5,2127.1 2243.5,2127.5C2235.5,2128.3 2187.5,2129.6 2163.5,2130.1C2131.5,2130.8 2088.8,2131.1 2056.8,2131.5C2028.8,2131.9 1968.1,2132.1 1963.4,2132.8C1960.1,2133.3 2010.1,2135.1 2030.1,2135.5C2070.1,2136.3 2159.1,2135.7 2163.5,2136.8C2167.1,2137.7 2088.8,2140.8 2056.8,2142.2C2024.8,2143.6 1982.1,2145.1 1950.1,2146.2C1926.1,2147 1894,2147.3 1870,2148.8C1862,2149.3 1851.2,2151 1843.4,2152.8C1837.6,2154.2 1830.2,2157.2 1824.7,2159.5C1822.6,2160.4 1817.2,2162.3 1818,2163.3C1819.6,2165.4 1828.4,2167.7 1832.7,2170C1836,2171.8 1843.8,2175.2 1843.4,2176.7C1843,2178.4 1834.1,2179.8 1830,2180.7C1825.3,2181.8 1816.8,2180.8 1814,2183.4C1811.7,2185.6 1812.3,2192.8 1812.7,2196.7C1813.1,2200.8 1814.6,2206.6 1816.7,2210C1818.2,2212.6 1821.8,2215.8 1824.7,2216.7C1831.4,2218.7 1842,2217.7 1848.7,2219.4C1850,2219.7 1850,2223.3 1851.4,2223.4C1864.4,2224.1 1883.1,2222 1896.7,2222C1912.7,2222 1934.1,2222.8 1950.1,2223.4C1966.1,2224 1987.4,2225.3 2003.4,2226C2019.4,2226.7 2040.8,2227.8 2056.8,2228.2C2096.8,2229.2 2150.2,2230.1 2190.2,2230.8C2230.2,2231.5 2283.6,2232.2 2323.6,2232.7C2349.5,2233 2384.1,2233.3 2410,2233.5C2444,2233.8 2489.4,2234.2 2523.4,2234.6C2563.4,2235 2616.8,2235.7 2656.8,2236.2C2696.8,2236.7 2750.2,2237.4 2790.2,2238C2815,2238.4 2861.1,2238.2 2872.9,2239.4C2877.1,2239.8 2852.3,2242 2843.5,2243.4C2827.5,2246 2806.1,2249.5 2790.2,2252.7C2778.1,2255.1 2762,2258.6 2750.2,2262.1C2738,2265.8 2722.5,2273.8 2710.1,2276.7C2694.5,2280.4 2672.8,2281.8 2656.8,2284.2C2632.7,2287.8 2600.7,2292.8 2576.7,2296.7C2560.7,2299.3 2539.1,2302.3 2523.4,2306.1C2518.3,2307.3 2511.7,2310.7 2507.4,2313.5C2506.2,2314.3 2505.2,2317.8 2505.2,2317.8"/>
<path class="c" stroke="#FFC77F" d="M1817.5,1423C1817.5,1423 1816.8,1473.4 1816.7,1495C1816.6,1511 1815.6,1532.5 1816.7,1548.4C1817,1553.4 1820.8,1559.5 1821.5,1564.4C1822.2,1569.1 1821.9,1575.6 1821.5,1580.4C1820.9,1586.8 1818.4,1595.3 1818,1601.7C1817.8,1604.9 1819.5,1609.2 1819.3,1612.4C1819.1,1617.2 1818.1,1623.8 1816.7,1628.4C1815.7,1631.8 1813.2,1636.1 1811.3,1639.1C1810,1641.3 1805.3,1644.4 1806,1645.8C1806.9,1647.6 1813.3,1649.2 1816.7,1649.8C1824.6,1651.2 1835.4,1651.4 1843.4,1652.4C1851.4,1653.4 1862.1,1654.9 1870,1656.4C1875.7,1657.5 1886.5,1659.1 1888.7,1661C1889.7,1661.9 1879.2,1665.2 1880.7,1665.8C1885.6,1667.8 1901.3,1668.6 1910.1,1669.8C1917.7,1670.8 1929.3,1671.2 1935.4,1673.2C1936.5,1673.6 1933.6,1676.8 1934.1,1677.8C1934.8,1679 1939.7,1679.3 1939.4,1680.4C1938.9,1682.5 1934.1,1686.5 1931.4,1688.5C1928.5,1690.7 1920,1693.5 1920.7,1694.6C1921.6,1696.1 1931.9,1696.7 1936.7,1697.3C1944.7,1698.3 1960.7,1698.8 1963.4,1699.9C1964.8,1700.4 1954.1,1701.9 1950.1,1702.6C1943.7,1703.7 1928.7,1704.9 1928.7,1705.8C1928.7,1706.7 1943.7,1707.9 1950.1,1708.5C1959.7,1709.4 1973.7,1708.9 1982.1,1710.6C1983.3,1710.8 1983,1714.4 1982.1,1715.1C1979.8,1716.9 1970.7,1718.3 1971.4,1719.1C1972.3,1720.3 1987,1720.7 1987.4,1721.8C1987.8,1722.7 1976.5,1724 1974.1,1725.8C1973.3,1726.4 1977.7,1729.4 1976.7,1729.8C1971.7,1731.6 1954.1,1732 1954.1,1733C1954.1,1734 1969.9,1735.5 1976.7,1736.5C1982.3,1737.3 1994.5,1738.2 1995.4,1739.1C1996.1,1739.8 1986.1,1741.3 1982.1,1741.8C1972.5,1742.9 1959.7,1743.6 1950.1,1744.5C1942.1,1745.2 1931.2,1745.6 1923.4,1747.1C1920.8,1747.6 1916.3,1749.4 1915.4,1751.1C1914.8,1752.2 1916.7,1755.5 1918.1,1756.5C1920.7,1758.3 1925.4,1759.9 1928.7,1760.5C1935,1761.6 1943.7,1761.7 1950.1,1762.3C1957.3,1762.9 1968.8,1763 1974.1,1764.5C1975.2,1764.8 1972.8,1768.3 1971.4,1768.5C1961.5,1770.3 1947.1,1770.4 1936.7,1771.2C1926.3,1772 1912.3,1772.6 1902,1773.8C1900.7,1774 1897.4,1775.3 1898,1775.7C1899.8,1776.9 1907.3,1777.4 1910.1,1779.2C1911.3,1780 1910.2,1783.8 1911.4,1784.5C1914.2,1786.2 1924.8,1786.8 1923.4,1787.2C1920.4,1788.1 1904.7,1788.5 1896.7,1789C1888.7,1789.5 1870,1790.1 1870,1790.6C1870,1791 1888.7,1791.9 1896.7,1792C1928.7,1792.5 1971.4,1792.3 2003.4,1792.5C2043.4,1792.8 2096.8,1793.3 2136.8,1793.8C2168.8,1794.2 2211.5,1794.8 2243.5,1795.2C2266.7,1795.5 2320.9,1795.4 2320.9,1796C2320.9,1796.6 2266.7,1798.4 2243.5,1799.2C2219.5,1800 2187.5,1800.4 2163.5,1801.3C2156.3,1801.6 2143,1802 2139.5,1803.2C2138.2,1803.6 2145,1806.2 2147.5,1806.6C2154.6,1807.8 2166.2,1807 2171.5,1808.5C2172.6,1808.8 2168.6,1811.6 2168.8,1812.5C2169,1813.4 2173.9,1814.4 2172.8,1814.6C2164.3,1816 2147.6,1816.8 2136.8,1817.8C2124.8,1818.9 2108.8,1820.4 2096.8,1821.8C2088.8,1822.8 2078,1824.3 2070.1,1825.8C2065.6,1826.7 2055.8,1828.6 2055.4,1829.8C2055,1830.8 2063.8,1833.1 2067.5,1833.3C2075.4,1833.7 2086.1,1831.8 2094.1,1832C2106.9,1832.4 2124,1834.4 2136.8,1835.2C2152,1836.1 2185.2,1836.2 2187.5,1837.8C2189.2,1839 2148.6,1843.3 2150.2,1844.5C2152.3,1846 2185.1,1846.4 2200,1846.8C2239.2,1847.9 2291.6,1848.6 2330.8,1849.4C2360.2,1850 2399.5,1850.8 2428.9,1851.7C2445.1,1852.2 2482.9,1853 2482.9,1854C2482.9,1855 2445.1,1857 2428.9,1858.2C2419.1,1858.9 2392.9,1860 2396.2,1860.5C2402.7,1861.5 2442,1862.2 2461.6,1863.1C2481.2,1864 2507.4,1865.4 2527,1866.4C2541.7,1867.2 2576.1,1868.3 2576.1,1869C2576.1,1869.7 2541.7,1871.1 2527,1871.3C2497.6,1871.8 2458.3,1870.7 2428.9,1871.3C2407.3,1871.7 2367,1873 2357,1874.6C2353.3,1875.2 2386.1,1878.3 2383.1,1878.8C2376.3,1879.8 2341.5,1877.5 2324.3,1879.5C2318.9,1880.1 2313.1,1886.1 2307.9,1887.7C2300.4,1890 2279.4,1891.9 2281.8,1892.6C2286.3,1893.9 2316.2,1893 2330.8,1894.2C2339.2,1894.9 2360.5,1898.1 2358.6,1899.1C2355.6,1900.6 2327.7,1901.2 2314.5,1902.4C2299.8,1903.7 2267.7,1905.3 2265.4,1907.3C2263.7,1908.8 2301.4,1912.1 2301.4,1913.8C2301.4,1915.5 2276.2,1917.7 2265.4,1918.7C2255.6,1919.6 2236.9,1919.4 2232.7,1920.4C2231,1920.8 2247.1,1922.8 2245.8,1923.6C2243.2,1925.2 2227.4,1926.8 2219.6,1928.5C2213.7,1929.8 2205.7,1931.5 2200,1933.4C2198.4,1933.9 2194.4,1936.4 2195.5,1936.7C2200.2,1937.8 2218.6,1937 2219.5,1938.1C2220.2,1939 2199.5,1942.1 2200.8,1943.4C2202.7,1945.4 2234.9,1948.6 2230.2,1949.3C2215.7,1951.4 2164.7,1950.9 2136.8,1952.7C2130.3,1953.1 2113.5,1955.7 2115.5,1956.7C2119.2,1958.5 2152.5,1959.6 2155.5,1962.1C2157.3,1963.6 2133.5,1967.3 2131.5,1970.1C2130.3,1971.7 2144.4,1974.4 2144.8,1976.7C2145.2,1978.8 2135.6,1981.8 2134.1,1984.8C2133.2,1986.7 2134.7,1992.1 2136.8,1992.8C2143.5,1995.1 2165.1,1994.3 2163.5,1994.9C2161.1,1995.9 2122.1,1997 2123.5,1998.1C2125.3,1999.5 2165.2,1999.2 2174.2,2003.4C2177.2,2004.8 2167.5,2014 2163.5,2016.8C2159.5,2019.6 2147.5,2020.9 2147.5,2022.1C2147.5,2023.3 2164.7,2023.8 2163.5,2024.8C2161.5,2026.6 2144.5,2028.7 2136.8,2031.4C2134.1,2032.3 2127.6,2035.9 2128.8,2036.8C2131.6,2038.8 2148.7,2039.3 2150.2,2040.8C2151.1,2041.7 2134.1,2044.4 2136.8,2044.8C2149.3,2046.6 2200.8,2047.2 2200.8,2048.2C2200.8,2049.2 2155.9,2049.6 2136.8,2051.4C2115.9,2053.4 2080.4,2057.2 2067.5,2060.8C2064.4,2061.7 2078.6,2064.7 2083.5,2066.1C2089.8,2067.9 2099,2068.8 2104.8,2071.5C2108.6,2073.2 2111.8,2078.9 2115.5,2080.8C2120.6,2083.3 2129.1,2083.6 2134.1,2086.1C2136.3,2087.2 2137.2,2092.1 2139.5,2092.8C2146,2094.9 2156.3,2094.7 2163.5,2095.5C2171.5,2096.3 2182.4,2096.4 2190.2,2098.1C2193.6,2098.8 2197.9,2101.5 2200.8,2103.5C2202.7,2104.7 2204.1,2108.3 2206.2,2108.8C2216.9,2111.4 2232.3,2113.1 2243.5,2114.1C2259.5,2115.5 2280.9,2116.3 2296.9,2116.8C2318.5,2117.5 2356.4,2116.2 2368.9,2118.1C2372.4,2118.6 2347.1,2124.1 2350.2,2124.8C2359.5,2126.9 2392.2,2126.1 2410,2127.5C2413.8,2127.8 2423.2,2129.7 2422.4,2130.6C2421.1,2132 2399.8,2134.6 2402.8,2135.2C2411.6,2136.8 2444,2136.7 2461.6,2137.8C2475.4,2138.7 2504.4,2140.1 2507.4,2141.8C2509.3,2142.9 2476.4,2145.7 2478,2147C2480.3,2148.9 2507.7,2151.5 2520.5,2152.5C2542,2154.2 2570.8,2154.7 2592.4,2155.8C2609.1,2156.7 2651.8,2158.5 2648,2159.1C2642,2160 2586.2,2160.4 2559.7,2160.7C2520.5,2161.1 2468.1,2161 2428.9,2161.4C2397.5,2161.7 2348.4,2161.1 2324.3,2163.3C2321,2163.6 2340.3,2169.2 2337.3,2169.6C2322.6,2171.6 2287,2170.7 2265.4,2171.2C2245.8,2171.7 2219.6,2172.7 2200,2173.1C2197.1,2173.2 2193.1,2172.6 2190.2,2172.7C2158.2,2173.7 2115.5,2175.5 2083.5,2176.7C2051.5,2177.9 2008.7,2179.6 1976.7,2180.7C1952.7,2181.6 1920.7,2182.4 1896.7,2183.4C1883.1,2184 1863.9,2183.9 1851.4,2186C1849.9,2186.3 1848.5,2191.2 1850,2191.4C1862.1,2193 1882.7,2191.7 1896.7,2191.9C1920.7,2192.3 1952.7,2193 1976.7,2193.5C2000.7,2194 2033.2,2193.2 2056.8,2195.4C2061.2,2195.8 2070.6,2200.5 2070.1,2202C2069.4,2203.9 2051.3,2206.2 2052.8,2206.8C2055.3,2207.8 2074.3,2207.4 2083.5,2207.4C2115.5,2207.5 2158.2,2207.4 2190.2,2207.4C2256.1,2207.4 2344.1,2207.3 2410,2207.4C2484,2207.5 2582.8,2207.7 2656.8,2207.9C2736.8,2208.1 2843.6,2208.3 2923.6,2208.7C2946.8,2208.8 2979.7,2207 3000.9,2209.5C3003.3,2209.8 3002.3,2215.4 3002.3,2218C3002.3,2220.8 3003.3,2226.7 3000.9,2227.4C2991.6,2230 2974.7,2227.6 2963.6,2228.7C2955.5,2229.5 2945,2232.7 2936.9,2234C2924.9,2235.9 2908.9,2237.7 2896.9,2239.4C2888.9,2240.5 2878.3,2242.7 2870.2,2243.4C2854.3,2244.7 2832.9,2245 2816.9,2246C2810.9,2246.4 2794.4,2247.6 2796.8,2247.9C2802.4,2248.6 2829.5,2249.2 2843.5,2249.5C2872.7,2250.2 2926.6,2250.1 2940.9,2251.4C2945.8,2251.9 2917.6,2254.5 2907.6,2255.4C2896.4,2256.4 2881.4,2257.2 2870.2,2257.5C2846.2,2258.2 2814.2,2258.1 2790.2,2258.6C2778.2,2258.8 2750.2,2259.4 2750.2,2259.9C2750.2,2260.4 2778.2,2261.2 2790.2,2262.1C2798.2,2262.7 2819.6,2263.9 2816.9,2264.7C2811.6,2266.3 2779.5,2268.5 2763.5,2270.1C2747.5,2271.7 2726.1,2273.6 2710.1,2275.4C2694.1,2277.2 2672.8,2280.3 2656.8,2282.1C2640.8,2283.9 2619.4,2285.8 2603.4,2287.4C2587.4,2289 2566,2290.7 2550.1,2292.7C2534,2294.7 2512.7,2298.3 2496.7,2300.7C2480.7,2303.1 2459.3,2306 2443.4,2308.7C2433.7,2310.4 2411.3,2314 2411.3,2315.4C2411.3,2316.8 2433.7,2317.9 2443.4,2318.1C2459.4,2318.5 2480.7,2317.8 2496.7,2317.5C2503.1,2317.4 2518.1,2316.7 2518.1,2316.7"/>
</g>
<g class="tk" fill="#262626" text-anchor="middle">
<text x="1799.2" y="2383.3">0</text>
<text x="2039.2" y="2383.3">20</text>
<text x="2279.2" y="2383.3">40</text>
<text x="2519.2" y="2383.3">60</text>
<text x="2759.2" y="2383.3">80</text>
<text x="2999.2" y="2383.3">100</text>
</g>
<g class="tk" fill="#0072BD" text-anchor="end">
<text x="1782.3" y="2339.5">0</text>
<text x="1782.3" y="2039.5">5</text>
<text x="1782.3" y="1739.5">10</text>
<text x="1782.3" y="1439.5">15</text>
</g>
<text class="lb" fill="#262626" text-anchor="middle" x="2399.4" y="2446.4">Relative Humidity (%) on 20240925</text>
<text class="lb" fill="#0072BD" text-anchor="middle" transform="translate(1703.5 1875.5) rotate(-90)">Altitude, AGL km</text>
<g class="lg">
<line x1="2529" y1="1496" x2="2654" y2="1496" stroke="#000000" stroke-width="8.33"/>
<text x="2666.4" y="1508.6">05:30 UTC</text>
<line x1="2529" y1="1548.3" x2="2654" y2="1548.3" stroke="#6A422A" stroke-width="8.33"/>
<text x="2666.4" y="1560.9">11:30 UTC</text>
<line x1="2529" y1="1600.6" x2="2654" y2="1600.6" stroke="#D48555" stroke-width="8.33"/>
<text x="2666.4" y="1613.2">17:30 UTC</text>
<line x1="2529" y1="1652.9" x2="2654" y2="1652.9" stroke="#FFC77F" stroke-width="8.33"/>
<text x="2666.4" y="1665.5">23:30 UTC</text>
</g>
</g>
</svg>
</body>
</html>
